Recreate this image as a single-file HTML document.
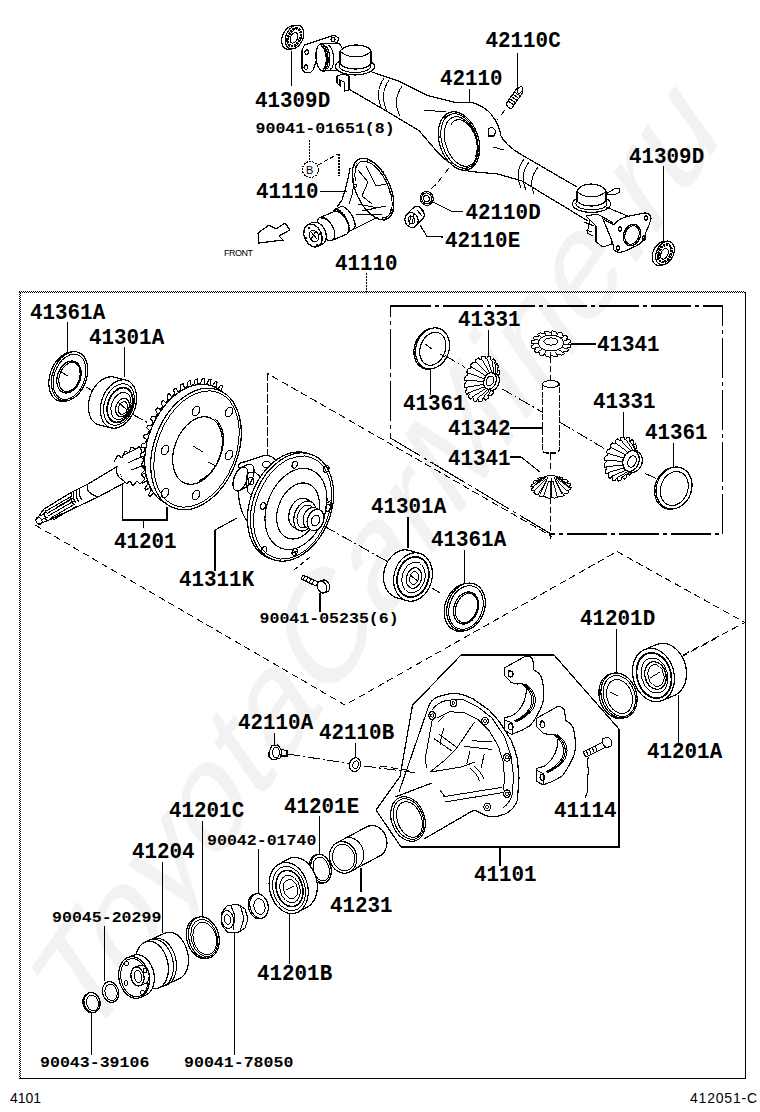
<!DOCTYPE html>
<html><head><meta charset="utf-8"><style>
html,body{margin:0;padding:0;background:#fff;width:760px;height:1112px;overflow:hidden}
svg{display:block}
.b{font-family:"Liberation Mono",monospace;font-weight:bold;font-size:22px;fill:#000}
.s{font-family:"Liberation Mono",monospace;font-weight:bold;font-size:15px;fill:#000}
.f{font-family:"Liberation Sans",sans-serif;font-size:14px;fill:#000}
.l{fill:none;stroke:#000;stroke-width:1.2}
.t{fill:none;stroke:#000;stroke-width:1}
.w{fill:#fff;stroke:#000;stroke-width:1.2}
.d{fill:none;stroke:#000;stroke-width:1;stroke-dasharray:7 4}
.dd{fill:none;stroke:#000;stroke-width:1;stroke-dasharray:12 3 2 3}
</style></head><body>
<svg width="760" height="1112" viewBox="0 0 760 1112" shape-rendering="crispEdges">
<text x="0" y="0" transform="translate(85.4,1049.1) scale(1.0205,1.457) rotate(-45)" style="font-family:'Liberation Sans',sans-serif;font-size:112px;fill:#f2f2f2">ToyotaCarMine.ru</text>
<path d="M281.7,40.7 L281.7,40 L281.7,39.4 L281.8,38.8 L281.9,38.2 L282,37.6 L282.2,37 L282.4,36.3 L282.6,35.7 L282.8,35.1 L283,34.5 L283.3,33.9 L283.6,33.3 L283.9,32.7 L284.2,32.2 L284.6,31.6 L284.9,31.1 L285.3,30.6 L285.7,30.1 L286.1,29.6 L286.5,29.2 L287,28.7 L287.4,28.3 L287.9,27.9 L288.3,27.6 L288.8,27.2 L289.3,26.9 L289.8,26.7 L290.3,26.4 L290.8,26.2 L291.2,26 L291.7,25.9 L292.2,25.8 L292.7,25.7 L296.2,25.2 L296.7,25.1 L297.1,25.1 L297.6,25.1 L298.1,25.2 L298.5,25.2 L298.9,25.4 L299.4,25.5 L299.8,25.7 L300.2,25.9 L300.6,26.1 L300.9,26.4 L301.3,26.7 L301.6,27 L301.9,27.3 L302.2,27.7 L302.5,28.1 L302.7,28.5 L302.9,29 L303.1,29.5 L303.3,29.9 L303.4,30.5 L303.6,31 L303.7,31.5 L303.8,32.1 L303.8,32.7 L303.8,33.2 L303.8,33.8 L303.8,34.5 L303.8,35.1 L303.7,35.7 L303.6,36.3 L303.5,36.9 L303.3,37.5 L303.1,38.2 L302.9,38.8 L302.7,39.4 L302.5,40 L302.2,40.6 L301.9,41.2 L301.6,41.8 L301.3,42.3 L300.9,42.9 L300.6,43.4 L300.2,43.9 L299.8,44.4 L299.4,44.9 L299,45.3 L298.5,45.8 L298.1,46.2 L297.6,46.6 L297.2,46.9 L296.7,47.2 L296.2,47.5 L295.7,47.8 L295.2,48.1 L294.8,48.3 L294.3,48.5 L293.8,48.6 L293.3,48.7 L292.8,48.8 L289.3,49.3 L288.8,49.4 L288.4,49.4 L287.9,49.4 L287.4,49.3 L287,49.2 L286.6,49.1 L286.1,49 L285.7,48.8 L285.3,48.6 L284.9,48.4 L284.6,48.1 L284.2,47.8 L283.9,47.5 L283.6,47.2 L283.3,46.8 L283,46.4 L282.8,46 L282.6,45.5 L282.4,45 L282.2,44.5 L282.1,44 L281.9,43.5 L281.8,43 L281.7,42.4 L281.7,41.8 L281.7,41.2 Z" fill="#fff" stroke="#000" stroke-width="1.2"/><ellipse cx="294.5" cy="37" rx="8.5" ry="12.5" transform="rotate(25 294.5 37)" fill="#fff" stroke="#000" stroke-width="1.2"/>
<ellipse cx="294.3" cy="37.3" rx="6" ry="9.2" transform="rotate(25 294.3 37.3)" fill="none" stroke="#000" stroke-width="2.8" stroke-dasharray="2.2 0.8"/>
<ellipse cx="294" cy="37.8" rx="3.4" ry="5.6" transform="rotate(25 294 37.8)" fill="none" stroke="#000" stroke-width="1.1"/>
<line x1="291.5" y1="50.5" x2="291.5" y2="86" stroke="#000" stroke-width="1.1"/>
<path d="M302,50 L304.5,45 L334,35.3 L338.5,37.8 L337.5,44 L333,48 L318,56 L313,70 L310.5,72.6 L304,72 L302,69 Z" fill="#fff" stroke="#000" stroke-width="1.2"/>
<ellipse cx="306.8" cy="52.1" rx="2" ry="2.2" fill="none" stroke="#000" stroke-width="1.1"/>
<ellipse cx="306" cy="67.1" rx="2" ry="2.2" fill="none" stroke="#000" stroke-width="1.1"/>
<ellipse cx="333" cy="39.5" rx="2" ry="2.2" fill="none" stroke="#000" stroke-width="1.1"/>
<path d="M315.9,55.2 L315.9,54.5 L315.9,53.8 L316,53.2 L316.1,52.5 L316.1,51.9 L316.2,51.2 L316.4,50.6 L316.5,50 L316.6,49.4 L316.8,48.9 L316.9,48.4 L317.1,47.9 L317.3,47.4 L317.5,46.9 L317.8,46.5 L318,46.1 L318.2,45.8 L318.5,45.4 L318.8,45.1 L319,44.9 L319.3,44.6 L319.6,44.5 L319.9,44.3 L320.2,44.2 L320.5,44.1 L320.8,44 L336.8,43 L337.1,43 L337.4,43.1 L337.8,43.1 L338.1,43.2 L338.4,43.4 L338.7,43.5 L339,43.8 L339.4,44 L339.7,44.3 L340,44.6 L340.3,44.9 L340.6,45.3 L340.9,45.7 L341.1,46.2 L341.4,46.6 L341.6,47.1 L341.9,47.6 L342.1,48.2 L342.4,48.7 L342.6,49.3 L342.8,49.9 L343,50.5 L343.2,51.2 L343.3,51.9 L343.5,52.5 L343.6,53.2 L343.7,53.9 L343.8,54.6 L343.9,55.3 L344,56 L344,56.7 L344.1,57.4 L344.1,58.1 L344.1,58.8 L344.1,59.5 L344.1,60.2 L344,60.8 L343.9,61.5 L343.9,62.1 L343.8,62.8 L343.6,63.4 L343.5,64 L343.4,64.6 L343.2,65.1 L343.1,65.6 L342.9,66.1 L342.7,66.6 L342.5,67.1 L342.2,67.5 L342,67.9 L341.8,68.2 L341.5,68.6 L341.2,68.9 L341,69.1 L340.7,69.4 L340.4,69.5 L340.1,69.7 L339.8,69.8 L339.5,69.9 L339.2,70 L323.2,71 L322.9,71 L322.6,70.9 L322.2,70.9 L321.9,70.8 L321.6,70.6 L321.3,70.5 L321,70.2 L320.6,70 L320.3,69.7 L320,69.4 L319.7,69.1 L319.4,68.7 L319.1,68.3 L318.9,67.8 L318.6,67.4 L318.4,66.9 L318.1,66.4 L317.9,65.8 L317.6,65.3 L317.4,64.7 L317.2,64.1 L317,63.5 L316.8,62.8 L316.7,62.1 L316.5,61.5 L316.4,60.8 L316.3,60.1 L316.2,59.4 L316.1,58.7 L316,58 L316,57.3 L315.9,56.6 L315.9,55.9 Z" fill="#fff" stroke="#000" stroke-width="1.2"/><ellipse cx="322" cy="57.5" rx="6" ry="13.5" transform="rotate(-5 322 57.5)" fill="#fff" stroke="#000" stroke-width="1.2"/>
<path d="M321,46 L321.3,46 L321.7,46.1 L322,46.3 L322.4,46.5 L322.7,46.8 L323.1,47.1 L323.4,47.5 L323.7,48 L324,48.5 L324.3,49.1 L324.6,49.8 L324.9,50.5 L325.1,51.2 L325.4,52 L325.6,52.8 L325.8,53.6 L325.9,54.5 L326.1,55.3 L326.2,56.2 L326.3,57.1 L326.3,58 L326.4,58.9 L326.4,59.8 L326.4,60.7 L326.3,61.5 L326.3,62.4 L326.2,63.2 L326.1,63.9 L325.9,64.7 L325.7,65.3 L325.5,66 L325.3,66.5 L325.1,67.1 L324.8,67.5 L324.6,67.9 L324.3,68.3 L324,68.6 L323.7,68.8 L323.3,68.9 L323,69" fill="none" stroke="#000" stroke-width="1.6"/>
<path d="M324.5,46 L324.8,46 L325.2,46.1 L325.5,46.3 L325.9,46.5 L326.2,46.8 L326.6,47.1 L326.9,47.5 L327.2,48 L327.5,48.5 L327.8,49.1 L328.1,49.8 L328.4,50.5 L328.6,51.2 L328.9,52 L329.1,52.8 L329.3,53.6 L329.4,54.5 L329.6,55.3 L329.7,56.2 L329.8,57.1 L329.8,58 L329.9,58.9 L329.9,59.8 L329.9,60.7 L329.8,61.5 L329.8,62.4 L329.7,63.2 L329.6,63.9 L329.4,64.7 L329.2,65.3 L329,66 L328.8,66.5 L328.6,67.1 L328.3,67.5 L328.1,67.9 L327.8,68.3 L327.5,68.6 L327.2,68.8 L326.8,68.9 L326.5,69" fill="none" stroke="#000" stroke-width="1.1"/>
<path d="M328,45.3 L328.3,45.4 L328.7,45.4 L329,45.6 L329.4,45.8 L329.7,46.1 L330.1,46.5 L330.5,46.9 L330.8,47.4 L331.1,48 L331.4,48.6 L331.7,49.2 L332,50 L332.3,50.7 L332.5,51.5 L332.7,52.4 L332.9,53.2 L333.1,54.1 L333.3,55 L333.4,56 L333.5,56.9 L333.6,57.8 L333.6,58.8 L333.6,59.7 L333.6,60.6 L333.5,61.5 L333.5,62.4 L333.4,63.2 L333.2,64 L333.1,64.8 L332.9,65.5 L332.7,66.1 L332.5,66.7 L332.2,67.3 L332,67.8 L331.7,68.2 L331.4,68.5 L331.1,68.8 L330.7,69 L330.4,69.2 L330,69.3" fill="none" stroke="#000" stroke-width="1.1"/>
<path d="M337,83 L337,76 L343,74 L349,76 L349,90 L345,91 L344,82 L340,80 L340,86 Z" fill="#fff" stroke="#000" stroke-width="1.1"/>
<ellipse cx="355" cy="66.5" rx="19.5" ry="8.5" fill="#fff" stroke="#000" stroke-width="1.2"/>
<ellipse cx="355" cy="66" rx="16" ry="6.5" fill="none" stroke="#000" stroke-width="1"/>
<path d="M340,64 L340,51 Q345,45 356,45 Q368,45 371,51 L371,64 Q366,69 355.5,69 Q345,69 340,64 Z" fill="#fff" stroke="#000" stroke-width="1.2"/>
<path d="M340,51 Q346,57 356,57 Q366,57 371,51" fill="none" stroke="#000" stroke-width="1.0"/>
<path d="M372,72 L400,81.6 L428.4,95.8 L456.8,102.7 L472.6,102.7 Q484,106 491,114 Q499,124 501,136 Q506,146 522,155 L577,187" fill="none" stroke="#000" stroke-width="1.2"/>
<path d="M349.5,89.5 L387.4,111.6 L419,130.5 L437.9,152.6 Q445,160 452,164 Q462,171 476,172 L498,174 L522,181 L588,221" fill="none" stroke="#000" stroke-width="1.2"/>
<path d="M384,78 Q374,93 382,109 M389,80 Q379,95 387,111 M402,86 Q392,101 400,116" fill="none" stroke="#000" stroke-width="1.0"/>
<path d="M524,159 Q514,172 521,188 M529,162 Q519,175 526,190 M538,167 Q528,180 534,194" fill="none" stroke="#000" stroke-width="1.0"/>
<path d="M424,110 L446,112" fill="none" stroke="#000" stroke-width="1.0"/>
<ellipse cx="459" cy="141" rx="19.5" ry="30" transform="rotate(-18 459 141)" fill="#fff" stroke="#000" stroke-width="1.2"/>
<ellipse cx="459.5" cy="141" rx="17.5" ry="28" transform="rotate(-18 459.5 141)" fill="none" stroke="#000" stroke-width="1.0"/>
<ellipse cx="461" cy="141.5" rx="15.5" ry="25.5" transform="rotate(-18 461 141.5)" fill="none" stroke="#000" stroke-width="1.0"/>
<path d="M450.9,124.9 L451.5,123.8 L452.2,122.9 L453,122.1 L453.8,121.4 L454.6,120.8 L455.6,120.3 L456.5,120 L457.5,119.8 L458.6,119.7 L459.6,119.7 L460.7,119.9 L461.8,120.3 L462.9,120.7 L464,121.3 L465.1,122 L466.2,122.8 L467.3,123.7 L468.3,124.7 L469.3,125.8 L470.3,127.1 L471.2,128.4 L472.1,129.8 L472.9,131.2 L473.7,132.7 L474.4,134.3 L475,135.9 L475.5,137.5 L476,139.2 L476.4,140.9 L476.7,142.5 L476.9,144.2 L477.1,145.8 L477.1,147.5 L477.1,149 L476.9,150.6 L476.7,152 L476.4,153.4 L476.1,154.7 L475.6,156 L475.1,157.1" fill="none" stroke="#000" stroke-width="1.0"/>
<ellipse cx="439.7" cy="136.9" rx="0.9" ry="0.9" fill="none" stroke="#000" stroke-width="0.8"/>
<ellipse cx="444.9" cy="117" rx="0.9" ry="0.9" fill="none" stroke="#000" stroke-width="0.8"/>
<ellipse cx="460.3" cy="114.3" rx="0.9" ry="0.9" fill="none" stroke="#000" stroke-width="0.8"/>
<ellipse cx="475.1" cy="130.6" rx="0.9" ry="0.9" fill="none" stroke="#000" stroke-width="0.8"/>
<ellipse cx="478.5" cy="154.3" rx="0.9" ry="0.9" fill="none" stroke="#000" stroke-width="0.8"/>
<ellipse cx="468.3" cy="168.6" rx="0.9" ry="0.9" fill="none" stroke="#000" stroke-width="0.8"/>
<ellipse cx="451.6" cy="163.1" rx="0.9" ry="0.9" fill="none" stroke="#000" stroke-width="0.8"/>
<path d="M488,129 L492,127 L496,131 L494,136 L489,136 Z" fill="none" stroke="#000" stroke-width="1.1"/>
<path d="M493,147 L504,150" fill="none" stroke="#000" stroke-width="1.0"/>
<path d="M517,88 Q520,85.5 523,92 L512,108 Q508,109 506,104 Z" fill="#fff" stroke="#000" stroke-width="1.1"/>
<ellipse cx="520" cy="90" rx="2.2" ry="3.6" transform="rotate(35 520 90)" fill="#fff" stroke="#000" stroke-width="1.0"/>
<line x1="514.4" y1="92" x2="520.1" y2="96" stroke="#000" stroke-width="1.0"/>
<line x1="512.8" y1="94.2" x2="518.6" y2="98.2" stroke="#000" stroke-width="1.0"/>
<line x1="511.3" y1="96.5" x2="517.1" y2="100.5" stroke="#000" stroke-width="1.0"/>
<line x1="509.7" y1="98.7" x2="515.5" y2="102.7" stroke="#000" stroke-width="1.0"/>
<line x1="508.2" y1="101" x2="514" y2="105" stroke="#000" stroke-width="1.0"/>
<line x1="517.5" y1="52.5" x2="517.5" y2="89" stroke="#000" stroke-width="1.1"/>
<path d="M505,110 L497,120" fill="none" stroke="#000" stroke-width="1" stroke-dasharray="7 4"/>
<line x1="469.5" y1="88.5" x2="469.5" y2="102" stroke="#000" stroke-width="1.1"/>
<path d="M449,168 L435,186" fill="none" stroke="#000" stroke-width="1" stroke-dasharray="7 4"/>
<path d="M586,216 L597,214 L612,222 L612,244 L603,247 L596,242 L596,226 Z" fill="#fff" stroke="#000" stroke-width="1.1"/>
<path d="M590,220 L587,233 L593,236 M584,222 L594,226 M586,230 L592,232" fill="none" stroke="#000" stroke-width="1.0"/>
<ellipse cx="591.5" cy="204" rx="19" ry="8.5" fill="#fff" stroke="#000" stroke-width="1.2"/>
<ellipse cx="591.5" cy="203.5" rx="15.5" ry="6.5" fill="none" stroke="#000" stroke-width="1"/>
<path d="M577,201 L577,191 Q581,184 591,184 Q602,184 606,191 L606,201 Q601,206 591.5,206 Q581,206 577,201 Z" fill="#fff" stroke="#000" stroke-width="1.2"/>
<path d="M577,191 Q582,197 591,197 Q601,197 606,191" fill="none" stroke="#000" stroke-width="1.0"/>
<path d="M606,194 L614,189 L619,188 L620,192 L614,195 Z" fill="#fff" stroke="#000" stroke-width="1.1"/>
<path d="M606,207 L630,217 M612,243 L616,246" fill="none" stroke="#000" stroke-width="1.1"/>
<path d="M603,219 L614,225 Q618,218 630,216 L645,213 Q651,213 651,219 L649,225 L646,232 Q645,242 636,246 L625,251 Q617,254 614,250 L613,244 L610,236 Z" fill="#fff" stroke="#000" stroke-width="1.2"/>
<ellipse cx="632" cy="235" rx="8.5" ry="11" transform="rotate(20 632 235)" fill="none" stroke="#000" stroke-width="1.2"/>
<ellipse cx="632" cy="235" rx="7" ry="9.5" transform="rotate(20 632 235)" fill="none" stroke="#000" stroke-width="1.0"/>
<ellipse cx="646" cy="218" rx="2" ry="2.2" fill="none" stroke="#000" stroke-width="1.1"/>
<ellipse cx="644" cy="238" rx="2" ry="2.2" fill="none" stroke="#000" stroke-width="1.1"/>
<ellipse cx="618" cy="248" rx="2" ry="2.2" fill="none" stroke="#000" stroke-width="1.1"/>
<ellipse cx="620" cy="229" rx="2" ry="2.2" fill="none" stroke="#000" stroke-width="1.1"/>
<path d="M652.2,256.7 L652.2,256.1 L652.2,255.4 L652.3,254.8 L652.4,254.2 L652.5,253.6 L652.7,253 L652.9,252.3 L653.1,251.7 L653.3,251.1 L653.5,250.5 L653.8,249.9 L654.1,249.3 L654.4,248.7 L654.7,248.2 L655.1,247.6 L655.4,247.1 L655.8,246.6 L656.2,246.1 L656.6,245.6 L657,245.2 L657.5,244.7 L657.9,244.3 L658.4,243.9 L658.8,243.6 L659.3,243.2 L659.8,242.9 L660.3,242.7 L660.8,242.4 L661.2,242.2 L661.7,242 L662.2,241.9 L662.7,241.8 L663.2,241.7 L666.7,241.2 L667.2,241.1 L667.6,241.1 L668.1,241.1 L668.6,241.2 L669,241.2 L669.5,241.4 L669.9,241.5 L670.3,241.7 L670.7,241.9 L671.1,242.1 L671.4,242.4 L671.8,242.7 L672.1,243 L672.4,243.3 L672.7,243.7 L673,244.1 L673.2,244.5 L673.4,245 L673.6,245.5 L673.8,245.9 L674,246.5 L674.1,247 L674.2,247.5 L674.3,248.1 L674.3,248.7 L674.3,249.2 L674.3,249.8 L674.3,250.4 L674.3,251.1 L674.2,251.7 L674.1,252.3 L674,252.9 L673.8,253.5 L673.6,254.2 L673.4,254.8 L673.2,255.4 L673,256 L672.7,256.6 L672.4,257.2 L672.1,257.8 L671.8,258.3 L671.4,258.9 L671.1,259.4 L670.7,259.9 L670.3,260.4 L669.9,260.9 L669.5,261.3 L669,261.8 L668.6,262.2 L668.1,262.6 L667.7,262.9 L667.2,263.2 L666.7,263.6 L666.2,263.8 L665.7,264.1 L665.2,264.3 L664.8,264.5 L664.3,264.6 L663.8,264.7 L663.3,264.8 L659.8,265.3 L659.3,265.4 L658.9,265.4 L658.4,265.4 L657.9,265.3 L657.5,265.2 L657,265.1 L656.6,265 L656.2,264.8 L655.8,264.6 L655.4,264.4 L655.1,264.1 L654.7,263.8 L654.4,263.5 L654.1,263.2 L653.8,262.8 L653.5,262.4 L653.3,262 L653.1,261.5 L652.9,261 L652.7,260.6 L652.5,260 L652.4,259.5 L652.3,259 L652.2,258.4 L652.2,257.8 L652.2,257.2 Z" fill="#fff" stroke="#000" stroke-width="1.2"/><ellipse cx="665" cy="253" rx="8.5" ry="12.5" transform="rotate(25 665 253)" fill="#fff" stroke="#000" stroke-width="1.2"/>
<ellipse cx="664.8" cy="253.3" rx="6" ry="9.2" transform="rotate(25 664.8 253.3)" fill="none" stroke="#000" stroke-width="2.8" stroke-dasharray="2.2 0.8"/>
<ellipse cx="664.5" cy="253.8" rx="3.4" ry="5.6" transform="rotate(25 664.5 253.8)" fill="none" stroke="#000" stroke-width="1.1"/>
<line x1="663.5" y1="166" x2="663.5" y2="241" stroke="#000" stroke-width="1.1"/>
<ellipse cx="426.7" cy="198.4" rx="6.5" ry="7" transform="rotate(-20 426.7 198.4)" fill="#fff" stroke="#000" stroke-width="1.2"/>
<ellipse cx="426.7" cy="198.4" rx="5" ry="5.5" transform="rotate(-20 426.7 198.4)" fill="none" stroke="#000" stroke-width="1.0"/>
<ellipse cx="426.5" cy="198.6" rx="2.8" ry="3.3" transform="rotate(-20 426.5 198.6)" fill="none" stroke="#000" stroke-width="1.1"/>
<path d="M433,202 L452,211.5 L463,211.5" fill="none" stroke="#000" stroke-width="1.1"/>
<path d="M404.9,219.2 L404.9,218.8 L404.9,218.4 L405,218 L405.1,217.7 L405.1,217.3 L405.2,216.9 L405.4,216.6 L405.5,216.2 L405.7,215.9 L405.8,215.6 L406,215.3 L406.2,215 L406.4,214.7 L406.7,214.5 L412.9,208.2 L413.2,208 L413.4,207.8 L413.7,207.6 L414,207.4 L414.3,207.2 L414.6,207.1 L414.9,206.9 L415.3,206.8 L415.6,206.8 L415.9,206.7 L416.3,206.6 L416.6,206.6 L416.9,206.6 L417.3,206.6 L417.6,206.7 L418,206.7 L418.3,206.8 L418.7,206.9 L419,207 L419.4,207.1 L419.7,207.3 L420,207.4 L420.3,207.6 L420.6,207.8 L420.9,208.1 L421.2,208.3 L421.5,208.6 L421.8,208.8 L422,209.1 L422.3,209.4 L422.5,209.7 L422.7,210 L422.9,210.4 L423.1,210.7 L423.3,211.1 L423.5,211.4 L423.6,211.8 L423.7,212.2 L423.8,212.5 L423.9,212.9 L424,213.3 L424.1,213.7 L424.1,214.1 L424.1,214.4 L424.1,214.8 L424.1,215.2 L424.1,215.6 L424,216 L423.9,216.3 L423.9,216.7 L423.8,217.1 L423.6,217.4 L423.5,217.8 L423.3,218.1 L423.2,218.4 L423,218.7 L422.8,219 L422.6,219.3 L422.3,219.5 L416.1,225.8 L415.8,226 L415.6,226.2 L415.3,226.4 L415,226.6 L414.7,226.8 L414.4,226.9 L414.1,227.1 L413.7,227.2 L413.4,227.2 L413.1,227.3 L412.7,227.4 L412.4,227.4 L412.1,227.4 L411.7,227.4 L411.4,227.3 L411,227.3 L410.7,227.2 L410.3,227.1 L410,227 L409.6,226.9 L409.3,226.7 L409,226.6 L408.7,226.4 L408.4,226.2 L408.1,225.9 L407.8,225.7 L407.5,225.4 L407.2,225.2 L407,224.9 L406.7,224.6 L406.5,224.3 L406.3,224 L406.1,223.6 L405.9,223.3 L405.7,222.9 L405.5,222.6 L405.4,222.2 L405.3,221.8 L405.2,221.5 L405.1,221.1 L405,220.7 L404.9,220.3 L404.9,219.9 L404.9,219.6 Z" fill="#fff" stroke="#000" stroke-width="1.2"/><ellipse cx="411.5" cy="220" rx="6.5" ry="7.5" transform="rotate(-20 411.5 220)" fill="#fff" stroke="#000" stroke-width="1.2"/>
<path d="M411,215 L409,225 M414,214 L412,224 M417,210 L422,216 M420,208 L425,214" fill="none" stroke="#000" stroke-width="1.0"/>
<ellipse cx="411.5" cy="220" rx="3" ry="3.8" transform="rotate(-20 411.5 220)" fill="none" stroke="#000" stroke-width="1.0"/>
<path d="M420,225 L427,236.5 L443,237" fill="none" stroke="#000" stroke-width="1.1"/>
<path d="M436,184 L430,190" fill="none" stroke="#000" stroke-width="1" stroke-dasharray="7 4"/>
<circle cx="310.5" cy="169.5" r="8" fill="none" stroke="#000" stroke-width="1.1" stroke-dasharray="2 1"/>
<text x="306" y="174" style="font-family:'Liberation Sans';font-size:11px;fill:#000">B</text>
<path d="M309.5,140 L309.5,161" fill="none" stroke="#000" stroke-width="1.1" stroke-dasharray="1.5 1.5"/>
<path d="M318,165 L338,154" fill="none" stroke="#000" stroke-width="1.1" stroke-dasharray="4 3"/>
<path d="M339,154 L339,176" fill="none" stroke="#000" stroke-width="1.1" stroke-dasharray="1.5 1.5"/>
<line x1="320" y1="191.3" x2="347" y2="191.3" stroke="#000" stroke-width="1.1"/>
<path d="M350,168 Q347,186 342,200 L337,207 M378,217 L350,231" fill="none" stroke="#000" stroke-width="1.2"/>
<path d="M352,172 Q356,188 349,204 M358,170 L368,182 L362,196 L372,204 M366,166 L376,186 L386,184 M358,204 L378,208 M362,211 L386,206 M356,214 L382,214" fill="none" stroke="#000" stroke-width="1.0"/>
<ellipse cx="373" cy="189" rx="17" ry="33" transform="rotate(-25 373 189)" fill="none" stroke="#000" stroke-width="1.3"/>
<path d="M355.4,181.1 L355.1,178.2 L354.9,175.4 L355,172.8 L355.2,170.4 L355.7,168.3 L356.5,166.4 L357.4,164.7 L358.5,163.4 L359.8,162.3 L361.2,161.6 L362.8,161.2 L364.5,161.2 L366.3,161.5 L368.3,162.1 L370.2,163 L372.2,164.3 L374.3,165.9 L376.3,167.7 L378.3,169.8 L380.2,172.1 L382.1,174.7 L383.8,177.4 L385.4,180.3 L386.9,183.2 L388.2,186.3 L389.4,189.4 L390.3,192.5 L391.1,195.5 L391.7,198.5 L392,201.4 L392.1,204.1 L392,206.7 L391.7,209 L391.1,211.1 L390.4,213 L389.4,214.6 L388.3,215.9 L387,216.8 L385.5,217.5 L383.9,217.8" fill="none" stroke="#000" stroke-width="1.0"/>
<ellipse cx="355.7" cy="164.5" rx="1.4" ry="1.6" fill="none" stroke="#000" stroke-width="1.0"/>
<ellipse cx="368.8" cy="161" rx="1.4" ry="1.6" fill="none" stroke="#000" stroke-width="1.0"/>
<ellipse cx="382.2" cy="173.1" rx="1.4" ry="1.6" fill="none" stroke="#000" stroke-width="1.0"/>
<ellipse cx="391.3" cy="192.7" rx="1.4" ry="1.6" fill="none" stroke="#000" stroke-width="1.0"/>
<ellipse cx="392" cy="210.7" rx="1.4" ry="1.6" fill="none" stroke="#000" stroke-width="1.0"/>
<ellipse cx="383.9" cy="218.7" rx="1.4" ry="1.6" fill="none" stroke="#000" stroke-width="1.0"/>
<ellipse cx="355.1" cy="185.7" rx="1.4" ry="1.6" fill="none" stroke="#000" stroke-width="1.0"/>
<path d="M332.9,213.5 L332.9,213.1 L333,212.6 L333.1,212.2 L333.1,211.8 L333.2,211.5 L333.4,211.1 L333.5,210.8 L333.6,210.6 L333.8,210.3 L334,210.1 L334.3,209.9 L334.5,209.7 L340.8,206.6 L341,206.5 L341.3,206.4 L341.6,206.4 L341.9,206.4 L342.3,206.4 L342.6,206.5 L343,206.6 L343.4,206.7 L343.8,206.9 L344.1,207.1 L344.5,207.3 L344.9,207.5 L345.4,207.8 L345.8,208.1 L346.2,208.4 L346.6,208.8 L347,209.2 L347.4,209.6 L347.9,210 L348.3,210.4 L348.7,210.9 L349.1,211.4 L349.5,211.9 L349.9,212.4 L350.3,213 L350.7,213.5 L351.1,214.1 L351.4,214.7 L352.1,215.8 L352.4,216.4 L352.7,217.1 L353,217.7 L353.3,218.3 L353.5,218.9 L353.8,219.5 L354,220.1 L354.4,221.2 L354.5,221.8 L354.7,222.4 L354.8,222.9 L354.9,223.5 L355,224 L355,224.5 L355.1,225 L355.1,225.5 L355.1,225.9 L355,226.4 L354.9,226.8 L354.9,227.2 L354.8,227.5 L354.6,227.9 L354.5,228.2 L354.4,228.4 L354.2,228.7 L354,228.9 L353.7,229.1 L353.5,229.3 L347.2,232.4 L347,232.5 L346.7,232.6 L346.4,232.6 L346.1,232.6 L345.7,232.6 L345.4,232.5 L345,232.4 L344.6,232.3 L344.2,232.1 L343.9,231.9 L343.5,231.7 L343.1,231.5 L342.6,231.2 L342.2,230.9 L341.8,230.6 L341.4,230.2 L341,229.8 L340.6,229.4 L340.1,229 L339.7,228.6 L339.3,228.1 L338.9,227.6 L338.5,227.1 L338.1,226.6 L337.7,226 L337.3,225.5 L336.9,224.9 L336.6,224.3 L335.9,223.2 L335.6,222.6 L335.3,221.9 L335,221.3 L334.7,220.7 L334.5,220.1 L334.2,219.5 L334,218.9 L333.6,217.8 L333.5,217.2 L333.3,216.6 L333.2,216.1 L333.1,215.5 L333,215 L333,214.5 L332.9,214 Z" fill="#fff" stroke="#000" stroke-width="1.2"/><ellipse cx="341" cy="221" rx="5.5" ry="13" transform="rotate(-30 341 221)" fill="#fff" stroke="#000" stroke-width="1.2"/>
<path d="M334.5,209.7 L334.9,209.6 L335.3,209.5 L335.8,209.4 L336.3,209.4 L336.8,209.5 L337.4,209.7 L337.9,210 L338.5,210.3 L339.2,210.7 L339.8,211.1 L340.4,211.6 L341,212.2 L341.7,212.8 L342.3,213.4 L342.9,214.2 L343.5,214.9 L344.1,215.7 L344.7,216.5 L345.2,217.4 L345.8,218.2 L346.3,219.1 L346.7,220 L347.1,221 L347.5,221.9 L347.9,222.8 L348.2,223.7 L348.5,224.5 L348.7,225.4 L348.8,226.2 L349,227 L349,227.8 L349.1,228.5 L349,229.2 L349,229.8 L348.8,230.3 L348.7,230.9 L348.4,231.3 L348.2,231.7 L347.9,232 L347.5,232.3" fill="none" stroke="#000" stroke-width="2.2" stroke-dasharray="1.5 1"/>
<path d="M317.1,223 L317.1,222.4 L317.2,221.9 L317.2,221.5 L317.3,221 L317.5,220.6 L317.6,220.1 L317.8,219.7 L317.9,219.4 L318.1,219 L318.4,218.7 L318.6,218.4 L318.9,218.2 L319.2,217.9 L319.5,217.7 L319.8,217.6 L333.8,211.6 L334.2,211.4 L334.5,211.3 L334.9,211.3 L335.3,211.2 L335.7,211.2 L336.1,211.2 L336.5,211.3 L337,211.4 L337.4,211.5 L337.9,211.7 L338.3,211.8 L338.8,212.1 L339.2,212.3 L339.7,212.6 L340.2,212.9 L340.6,213.2 L341.1,213.6 L341.5,213.9 L342,214.3 L342.4,214.8 L342.9,215.2 L343.3,215.7 L343.8,216.2 L344.2,216.7 L344.6,217.2 L345,217.8 L345.4,218.3 L345.7,218.9 L346.1,219.5 L346.4,220.1 L346.7,220.7 L347,221.3 L347.3,221.9 L347.5,222.5 L347.8,223.2 L348,223.8 L348.2,224.4 L348.4,225 L348.5,225.6 L348.6,226.2 L348.7,226.8 L348.8,227.4 L348.9,227.9 L348.9,228.5 L348.9,229 L348.9,229.6 L348.8,230.1 L348.8,230.5 L348.7,231 L348.5,231.4 L348.4,231.9 L348.2,232.3 L348.1,232.6 L347.9,233 L347.6,233.3 L347.4,233.6 L347.1,233.8 L346.8,234.1 L346.5,234.3 L346.2,234.4 L332.2,240.4 L331.8,240.6 L331.5,240.7 L331.1,240.7 L330.7,240.8 L330.3,240.8 L329.9,240.8 L329.5,240.7 L329,240.6 L328.6,240.5 L328.1,240.3 L327.7,240.2 L327.2,239.9 L326.8,239.7 L326.3,239.4 L325.8,239.1 L325.4,238.8 L324.9,238.4 L324.5,238.1 L324,237.7 L323.6,237.2 L323.1,236.8 L322.7,236.3 L322.2,235.8 L321.8,235.3 L321.4,234.8 L321,234.2 L320.6,233.7 L320.3,233.1 L319.9,232.5 L319.6,231.9 L319.3,231.3 L319,230.7 L318.7,230.1 L318.5,229.5 L318.2,228.8 L318,228.2 L317.8,227.6 L317.6,227 L317.5,226.4 L317.4,225.8 L317.3,225.2 L317.2,224.6 L317.1,224.1 L317.1,223.5 Z" fill="#fff" stroke="#000" stroke-width="1.2"/><ellipse cx="326" cy="229" rx="7" ry="13" transform="rotate(-30 326 229)" fill="#fff" stroke="#000" stroke-width="1.2"/>
<path d="M321,218.6 L321.4,218.4 L321.9,218.3 L322.4,218.2 L322.9,218.2 L323.4,218.3 L324,218.4 L324.6,218.6 L325.2,218.8 L325.8,219.1 L326.4,219.5 L327.1,220 L327.7,220.5 L328.3,221 L328.9,221.6 L329.5,222.3 L330.1,222.9 L330.7,223.7 L331.2,224.4 L331.7,225.2 L332.2,226 L332.7,226.8 L333.1,227.7 L333.5,228.5 L333.8,229.4 L334.1,230.2 L334.4,231 L334.6,231.9 L334.7,232.7 L334.8,233.5 L334.9,234.2 L334.9,235 L334.9,235.6 L334.8,236.3 L334.7,236.9 L334.5,237.5 L334.3,238 L334,238.4 L333.7,238.8 L333.4,239.1 L333,239.4" fill="none" stroke="#000" stroke-width="1.0"/>
<path d="M303.8,232.6 L303.8,232 L303.8,231.4 L303.9,230.9 L304,230.3 L304.1,229.8 L304.2,229.3 L304.4,228.8 L304.6,228.3 L304.8,227.9 L305,227.4 L305.2,227 L305.5,226.6 L305.8,226.3 L306.1,225.9 L306.4,225.6 L306.8,225.3 L307.1,225.1 L307.5,224.8 L307.9,224.6 L311.9,222.6 L312.3,222.4 L312.8,222.3 L313.2,222.2 L313.6,222.1 L314.1,222.1 L314.6,222.1 L315,222.1 L315.5,222.1 L316,222.2 L316.5,222.3 L316.9,222.4 L317.4,222.6 L317.9,222.8 L318.4,223 L318.9,223.3 L319.3,223.6 L319.8,223.9 L320.2,224.2 L320.7,224.6 L321.1,224.9 L321.6,225.4 L322,225.8 L322.4,226.2 L322.8,226.7 L323.1,227.2 L323.5,227.7 L323.8,228.2 L324.1,228.8 L324.4,229.3 L324.7,229.9 L325,230.5 L325.2,231.1 L325.4,231.7 L325.6,232.2 L325.8,232.8 L325.9,233.4 L326,234 L326.1,234.6 L326.2,235.2 L326.2,235.8 L326.2,236.4 L326.2,237 L326.2,237.6 L326.1,238.1 L326,238.7 L325.9,239.2 L325.8,239.7 L325.6,240.2 L325.4,240.7 L325.2,241.1 L325,241.6 L324.8,242 L324.5,242.4 L324.2,242.7 L323.9,243.1 L323.6,243.4 L323.2,243.7 L322.9,243.9 L322.5,244.2 L322.1,244.4 L318.1,246.4 L317.7,246.6 L317.2,246.7 L316.8,246.8 L316.4,246.9 L315.9,246.9 L315.4,246.9 L315,246.9 L314.5,246.9 L314,246.8 L313.5,246.7 L313.1,246.6 L312.6,246.4 L312.1,246.2 L311.6,246 L311.1,245.7 L310.7,245.4 L310.2,245.1 L309.8,244.8 L309.3,244.4 L308.9,244.1 L308.4,243.6 L308,243.2 L307.6,242.8 L307.2,242.3 L306.9,241.8 L306.5,241.3 L306.2,240.8 L305.9,240.2 L305.6,239.7 L305.3,239.1 L305,238.5 L304.8,237.9 L304.6,237.3 L304.4,236.8 L304.2,236.2 L304.1,235.6 L304,235 L303.9,234.4 L303.8,233.8 L303.8,233.2 Z" fill="#fff" stroke="#000" stroke-width="1.2"/><ellipse cx="313" cy="235.5" rx="8.5" ry="12" transform="rotate(-25 313 235.5)" fill="#fff" stroke="#000" stroke-width="1.2"/>
<ellipse cx="314" cy="236" rx="4.5" ry="6" transform="rotate(-25 314 236)" fill="none" stroke="#000" stroke-width="1.0"/>
<path d="M311,232 L317,239 M316,231 L311,239" fill="none" stroke="#000" stroke-width="1.0"/>
<ellipse cx="309" cy="228" rx="0.9" ry="0.9" fill="none" stroke="#000" stroke-width="0.9"/>
<ellipse cx="306" cy="238" rx="0.9" ry="0.9" fill="none" stroke="#000" stroke-width="0.9"/>
<ellipse cx="317" cy="245" rx="0.9" ry="0.9" fill="none" stroke="#000" stroke-width="0.9"/>
<ellipse cx="320" cy="234" rx="0.9" ry="0.9" fill="none" stroke="#000" stroke-width="0.9"/>
<path d="M258,233 L269,225 L276,229 L285,223 L290,230 L279,236 L283,240 L259,243 Z" fill="none" stroke="#000" stroke-width="1.2"/>
<text x="224" y="256" style="font-family:'Liberation Sans';font-size:9px;fill:#000;letter-spacing:-0.5px">FRONT</text>
<path d="M366.5,273 L366.5,292" fill="none" stroke="#000" stroke-width="1.1" stroke-dasharray="1.5 1.5"/>
<g shape-rendering="crispEdges" stroke="#000" stroke-width="1" fill="none"><path d="M19,291.5 L745,291.5" stroke-dasharray="1 1"/><path d="M20,292.5 L745,292.5" stroke-dasharray="1 1"/><path d="M19.5,292 L19.5,1078" stroke-dasharray="1 1"/><path d="M20.5,293 L20.5,1078" stroke-dasharray="1 1"/></g>
<path d="M745.5,292 L745.5,1078.5 L19,1078.5" stroke="#000" stroke-width="1.2" fill="none"/>
<path d="M390.5,306 L722.5,306 L722.5,534 L551,534 L390.5,438 Z" fill="none" stroke="#000" stroke-width="1.1" stroke-dasharray="40 4 4 4"/>
<path d="M267.5,456 L267.5,373.5 L552,536.5" fill="none" stroke="#000" stroke-width="1" stroke-dasharray="7 4"/>
<path d="M35,525 L345,705 L617,551.5 L745,622.5 L681,656" fill="none" stroke="#000" stroke-width="1" stroke-dasharray="7 4"/>
<line x1="67.5" y1="322" x2="67.5" y2="352" stroke="#000" stroke-width="1.1"/>
<path d="M48.8,383.8 L48.8,382.5 L48.9,381.2 L49,380 L49.1,378.7 L49.3,377.4 L49.6,376.1 L49.9,374.8 L50.2,373.5 L50.6,372.2 L51,371 L51.5,369.7 L52,368.5 L52.6,367.3 L53.2,366.1 L53.8,365 L54.5,363.9 L55.2,362.8 L56,361.7 L56.7,360.7 L57.5,359.8 L58.4,358.9 L59.2,358 L60.1,357.2 L61,356.4 L61.9,355.7 L62.8,355.1 L63.7,354.5 L64.7,354 L65.6,353.5 L66.6,353.1 L67.5,352.8 L68.5,352.5 L71,352 L71.9,351.9 L72.9,351.7 L73.8,351.6 L74.7,351.6 L75.6,351.7 L76.5,351.9 L77.4,352.1 L78.2,352.3 L79,352.7 L79.8,353.1 L80.6,353.5 L81.3,354.1 L82.1,354.7 L82.7,355.3 L83.4,356 L84,356.8 L84.5,357.6 L85,358.5 L85.5,359.4 L86,360.3 L86.3,361.3 L86.7,362.4 L87,363.5 L87.2,364.6 L87.4,365.7 L87.5,366.9 L87.7,368.1 L87.7,369.4 L87.7,370.6 L87.6,371.9 L87.5,373.1 L87.4,374.4 L87.2,375.7 L86.9,377 L86.6,378.3 L86.3,379.6 L85.9,380.9 L85.5,382.1 L85,383.4 L84.5,384.6 L83.9,385.8 L83.3,387 L82.7,388.1 L82,389.2 L81.3,390.3 L80.5,391.4 L79.8,392.4 L79,393.3 L78.2,394.2 L77.3,395.1 L76.4,395.9 L75.5,396.6 L74.6,397.4 L73.7,398 L72.8,398.6 L71.8,399.1 L70.9,399.6 L69.9,400 L69,400.3 L68,400.6 L65.5,401.1 L64.6,401.2 L63.6,401.4 L62.7,401.4 L61.8,401.4 L60.9,401.4 L60,401.2 L59.1,401 L58.3,400.8 L57.5,400.4 L56.7,400 L55.9,399.6 L55.1,399 L54.4,398.4 L53.8,397.8 L53.1,397.1 L52.5,396.3 L52,395.5 L51.5,394.6 L51,393.7 L50.5,392.8 L50.2,391.8 L49.8,390.7 L49.5,389.6 L49.3,388.5 L49.1,387.4 L49,386.2 L48.9,385 Z" fill="#fff" stroke="#000" stroke-width="1.2"/><ellipse cx="69.5" cy="376.3" rx="17" ry="25.5" transform="rotate(20 69.5 376.3)" fill="#fff" stroke="#000" stroke-width="1.2"/>
<ellipse cx="69.5" cy="376.8" rx="15.2" ry="23.5" transform="rotate(20 69.5 376.8)" fill="none" stroke="#000" stroke-width="1"/>
<ellipse cx="69" cy="377" rx="11.5" ry="16.5" transform="rotate(20 69 377)" fill="none" stroke="#000" stroke-width="1.2"/>
<ellipse cx="69.5" cy="377" rx="10" ry="15" transform="rotate(20 69.5 377)" fill="none" stroke="#000" stroke-width="1"/>
<path d="M61,372 L68,376" fill="none" stroke="#000" stroke-width="1"/>
<line x1="124.5" y1="347" x2="124.5" y2="377" stroke="#000" stroke-width="1.1"/>
<path d="M88.4,406.5 L88.4,405.2 L88.5,404 L88.7,402.7 L88.9,401.5 L89.1,400.2 L89.4,398.9 L89.7,397.7 L90.1,396.4 L90.5,395.2 L91,394 L91.5,392.8 L92.1,391.6 L92.7,390.4 L93.3,389.3 L94,388.2 L94.7,387.1 L95.4,386.1 L96.2,385.1 L96.9,384.2 L97.8,383.3 L98.6,382.5 L99.5,381.7 L100.3,381 L101.2,380.3 L102.2,379.6 L103.1,379.1 L104,378.6 L105,378.1 L105.9,377.8 L106.9,377.4 L107.8,377.2 L108.8,377 L109.7,376.9 L110.6,376.8 L111.5,376.8 L112.5,376.9 L113.3,377 L114.2,377.2 L126.2,380.2 L127,380.5 L127.9,380.8 L128.7,381.2 L129.4,381.7 L130.2,382.2 L130.9,382.8 L131.6,383.4 L132.2,384.1 L132.8,384.9 L133.4,385.7 L133.9,386.6 L134.4,387.5 L134.8,388.4 L135.2,389.4 L135.5,390.4 L135.8,391.5 L136.1,392.6 L136.3,393.7 L136.4,394.9 L136.6,396.1 L136.6,397.3 L136.6,398.5 L136.6,399.8 L136.5,401 L136.3,402.3 L136.1,403.5 L135.9,404.8 L135.6,406.1 L135.3,407.3 L134.9,408.6 L134.5,409.8 L134,411 L133.5,412.2 L132.9,413.4 L132.3,414.6 L131.7,415.7 L131.1,416.8 L130.3,417.9 L129.6,418.9 L128.8,419.9 L128.1,420.8 L127.2,421.7 L126.4,422.5 L125.5,423.3 L124.7,424 L123.8,424.7 L122.8,425.4 L121.9,425.9 L121,426.4 L120,426.9 L119.1,427.2 L118.1,427.6 L117.2,427.8 L116.2,428 L115.3,428.1 L114.4,428.2 L113.5,428.2 L112.5,428.1 L111.7,428 L110.8,427.8 L98.8,424.8 L98,424.5 L97.1,424.2 L96.3,423.8 L95.6,423.3 L94.8,422.8 L94.1,422.2 L93.4,421.6 L92.8,420.9 L92.2,420.1 L91.6,419.3 L91.1,418.4 L90.6,417.5 L90.2,416.6 L89.8,415.6 L89.5,414.6 L89.2,413.5 L88.9,412.4 L88.7,411.3 L88.5,410.1 L88.5,408.9 L88.4,407.7 Z" fill="#fff" stroke="#000" stroke-width="1.2"/><ellipse cx="118.5" cy="404" rx="17" ry="25" transform="rotate(20 118.5 404)" fill="#fff" stroke="#000" stroke-width="1.2"/>
<ellipse cx="119" cy="404.5" rx="14.5" ry="21.5" transform="rotate(20 119 404.5)" fill="none" stroke="#000" stroke-width="1"/>
<ellipse cx="120" cy="405" rx="12" ry="18" transform="rotate(20 120 405)" fill="none" stroke="#000" stroke-width="1.8"/>
<ellipse cx="121" cy="406" rx="9.5" ry="14" transform="rotate(20 121 406)" fill="none" stroke="#000" stroke-width="1"/>
<ellipse cx="122.5" cy="407.5" rx="6.5" ry="9.5" transform="rotate(20 122.5 407.5)" fill="none" stroke="#000" stroke-width="1.2"/>
<ellipse cx="123" cy="408" rx="4.5" ry="6.5" transform="rotate(20 123 408)" fill="none" stroke="#000" stroke-width="1"/>
<path d="M118,402 L127,410" fill="none" stroke="#000" stroke-width="1"/>
<path d="M86,387 L93,391 M132,414 L150,424" fill="none" stroke="#000" stroke-width="1" stroke-dasharray="12 3 2 3"/>
<path d="M153.4,493.4 L149.7,496.7 L148.4,494.9 L151.1,490.1 L149.7,487.6 L145.8,490.3 L144.8,488.1 L147.9,483.7 L146.8,480.9 L142.9,482.9 L142.2,480.5 L145.6,476.5 L144.9,473.5 L140.9,474.7 L140.5,472.1 L144.2,468.7 L143.9,465.4 L140,465.8 L139.9,463 L143.8,460.3 L143.9,456.9 L140.1,456.5 L140.3,453.6 L144.3,451.6 L144.8,448.1 L141.3,446.9 L141.8,444 L145.8,442.7 L146.6,439.2 L143.4,437.3 L144.3,434.4 L148.2,433.9 L149.4,430.4 L146.6,427.8 L147.7,425.1 L151.5,425.3 L153,422 L150.6,418.7 L152,416.1 L155.6,417.1 L157.4,414 L155.5,410.2 L157.1,407.7 L160.4,409.5 L162.5,406.7 L161.1,402.3 L162.9,400.2 L165.8,402.7 L168.1,400.2 L167.3,395.4 L169.2,393.5 L171.7,396.7 L174.2,394.6 L173.9,389.5 L176,388 L178,391.7 L180.6,390.1 L180.9,384.8 L183,383.7 L184.5,387.9 L187.1,386.7 L188.1,381.4 L190.2,380.6 L191.1,385.3 L193.8,384.6 L195.2,379.3 L197.4,379 L197.7,384 L200.3,383.8 L202.3,378.6 L204.3,378.7 L204.1,383.9 L206.5,384.3 L209,379.3 L211,379.8 L210.1,385.2 L212.4,386 L215.3,381.5 L217.1,382.4 L215.7,387.7 L217.8,389 L221.1,384.9 L222.7,386.2 L220.8,391.4 L222.6,393.2" fill="none" stroke="#000" stroke-width="1.1"/>
<path d="M144.8,461.4 L144.8,458.3 L145,455.2 L145.3,452 L145.7,448.9 L146.3,445.7 L146.9,442.5 L147.7,439.3 L148.6,436.2 L149.7,433.1 L150.8,429.9 L152,426.9 L153.4,423.9 L154.8,420.9 L156.3,418.1 L158,415.2 L159.7,412.5 L161.5,409.9 L163.4,407.3 L165.3,404.9 L167.3,402.6 L169.4,400.3 L171.6,398.2 L173.7,396.3 L176,394.5 L178.2,392.8 L180.5,391.2 L182.9,389.8 L185.2,388.6 L187.6,387.5 L189.9,386.5 L192.3,385.8 L194.7,385.1 L197,384.7 L199.4,384.4 L201.7,384.3 L203.9,384.3 L206.2,384.6 L208.3,384.9 L210.5,385.5 L212.6,386.2 L214.6,387.1 L216.6,388.1 L218.4,389.3 L224.4,393.3 L226.2,394.6 L228,396.1 L229.6,397.7 L231.1,399.5 L232.6,401.4 L233.9,403.4 L235.2,405.6 L236.3,407.9 L237.3,410.3 L238.2,412.8 L239,415.4 L239.7,418.1 L240.2,420.8 L240.7,423.7 L241,426.6 L241.2,429.6 L241.2,432.6 L241.2,435.7 L241,438.8 L240.7,442 L240.3,445.1 L239.7,448.3 L239.1,451.5 L238.3,454.7 L237.4,457.8 L236.3,460.9 L235.2,464.1 L234,467.1 L232.6,470.1 L231.2,473.1 L229.7,475.9 L228,478.8 L226.3,481.5 L224.5,484.1 L222.6,486.7 L220.7,489.1 L218.7,491.4 L216.6,493.7 L214.4,495.8 L212.3,497.7 L210,499.5 L207.8,501.2 L205.5,502.8 L203.1,504.2 L200.8,505.4 L198.4,506.5 L196.1,507.5 L193.7,508.2 L191.3,508.9 L189,509.3 L186.6,509.6 L184.3,509.7 L182.1,509.7 L179.8,509.4 L177.7,509.1 L175.5,508.5 L173.4,507.8 L171.4,506.9 L169.4,505.9 L167.6,504.7 L161.6,500.7 L159.8,499.4 L158,497.9 L156.4,496.3 L154.9,494.5 L153.4,492.6 L152.1,490.6 L150.8,488.4 L149.7,486.1 L148.7,483.7 L147.8,481.2 L147,478.6 L146.3,475.9 L145.8,473.2 L145.3,470.3 L145,467.4 L144.8,464.4 Z" fill="#fff" stroke="#000" stroke-width="1.2"/><ellipse cx="196" cy="449" rx="42" ry="63" transform="rotate(21 196 449)" fill="#fff" stroke="#000" stroke-width="1.2"/>
<ellipse cx="196.5" cy="449" rx="39.5" ry="60.5" transform="rotate(21 196.5 449)" fill="none" stroke="#000" stroke-width="1"/>
<ellipse cx="197.5" cy="450.5" rx="23" ry="35" transform="rotate(21 197.5 450.5)" fill="none" stroke="#000" stroke-width="1.2"/>
<path d="M215.1,419.1 L216.1,420 L217.2,421 L218.1,422 L219,423.2 L219.8,424.5 L220.5,425.9 L221.2,427.3 L221.7,428.8 L222.2,430.5 L222.6,432.1 L223,433.9 L223.2,435.7 L223.3,437.5 L223.4,439.4 L223.3,441.3 L223.2,443.3 L223,445.3 L222.7,447.3 L222.3,449.3 L221.8,451.3 L221.3,453.2 L220.6,455.2 L219.9,457.2 L219.1,459.1 L218.3,461 L217.3,462.8 L216.3,464.6 L215.3,466.3 L214.1,468 L213,469.6 L211.7,471.1 L210.5,472.5 L209.1,473.9 L207.8,475.1 L206.4,476.3 L205,477.3 L203.6,478.3 L202.1,479.1 L200.7,479.8 L199.2,480.4" fill="none" stroke="#000" stroke-width="1.2"/>
<ellipse cx="196" cy="411" rx="3.3" ry="5" transform="rotate(21 196 411)" fill="none" stroke="#000" stroke-width="1.1"/>
<ellipse cx="229" cy="412" rx="3.3" ry="5" transform="rotate(21 229 412)" fill="none" stroke="#000" stroke-width="1.1"/>
<ellipse cx="229" cy="455" rx="3.3" ry="5" transform="rotate(21 229 455)" fill="none" stroke="#000" stroke-width="1.1"/>
<ellipse cx="196" cy="495" rx="3.3" ry="5" transform="rotate(21 196 495)" fill="none" stroke="#000" stroke-width="1.1"/>
<ellipse cx="165" cy="493" rx="3.3" ry="5" transform="rotate(21 165 493)" fill="none" stroke="#000" stroke-width="1.1"/>
<ellipse cx="165" cy="450" rx="3.3" ry="5" transform="rotate(21 165 450)" fill="none" stroke="#000" stroke-width="1.1"/>
<path d="M193,446 L203,452 M208,462 L216,466" fill="none" stroke="#000" stroke-width="1"/>
<path d="M117,467 Q114,476 126,482 M121,465 Q117,476 128,480" fill="none" stroke="#000" stroke-width="1.2"/>
<path d="M114,462 L118,455 L122,458 L125,451 L129,453 L131,447 L136,449 L139,446 L142,451 L140,456 L144,460 L141,465 L145,470 L141,474 L145,479 L140,484 L137,481 L133,486 L130,481 L126,484" fill="#fff" stroke="#000" stroke-width="1.1"/>
<path d="M124,455 L140,447 M128,463 L143,456 M131,470 L142,466" fill="none" stroke="#000" stroke-width="1"/>
<path d="M36,520 L44,509 L72,492 L88,484 L118,466" fill="none" stroke="#000" stroke-width="1.2"/>
<path d="M38,524 L47,521 L98,497 L126,482" fill="none" stroke="#000" stroke-width="1.2"/>
<path d="M46,510 Q43,516 47,521 M72,493 Q69,500 74,505 M88,484 Q84,492 98,497" fill="none" stroke="#000" stroke-width="1.1"/>
<path d="M46,511 L72,496 M47,513.5 L73,498.5 M48,516 L74,501 M50,518.5 L75,504 M53,520 L76,506.5 M57,507 L70,499.5" fill="none" stroke="#000" stroke-width="1.0"/>
<path d="M40,516 L47,512 M41,520 L48,517" fill="none" stroke="#000" stroke-width="1.0"/>
<path d="M74,491 Q72,498 76,503 M77,490 Q75,497 79,502 M80,488 Q78,495 82,500" fill="none" stroke="#000" stroke-width="1.2"/>
<ellipse cx="39" cy="521" rx="2.8" ry="3.8" transform="rotate(-30 39 521)" fill="none" stroke="#000" stroke-width="1.1"/>
<path d="M122.5,485 L122.5,520 L167,520 L167,507 M143.5,520 L143.5,528" fill="none" stroke="#000" stroke-width="1.1"/>
<path d="M215,571 L215,530 L237,518" fill="none" stroke="#000" stroke-width="1.1"/>
<path d="M240,470 Q236,462 245,462 L262,456 Q270,454 276,460 L280,470 L270,522 Q262,530 250,524 Q240,516 238,490 Z" fill="#fff" stroke="#000" stroke-width="1.2"/>
<path d="M233,484 L233,483.4 L233,482.8 L233.1,482.2 L233.1,481.6 L233.2,481 L233.3,480.4 L233.5,479.8 L233.6,479.1 L233.8,478.5 L234,477.9 L234.2,477.3 L234.4,476.7 L234.7,476.1 L234.9,475.5 L235.2,474.9 L235.5,474.3 L235.8,473.7 L236.1,473.2 L236.4,472.6 L236.8,472.1 L237.1,471.6 L237.5,471.1 L237.8,470.7 L238.2,470.3 L238.6,469.9 L239,469.5 L239.4,469.1 L239.8,468.8 L240.2,468.5 L240.6,468.2 L240.9,467.9 L241.3,467.7 L247.3,464.7 L247.7,464.5 L248.1,464.4 L248.5,464.3 L248.9,464.2 L249.3,464.1 L249.6,464.1 L250,464.1 L250.3,464.1 L250.7,464.2 L251,464.3 L251.3,464.5 L251.6,464.6 L251.9,464.8 L252.1,465.1 L252.4,465.3 L252.6,465.6 L252.9,465.9 L253.1,466.3 L253.2,466.7 L253.4,467.1 L253.6,467.5 L253.7,467.9 L253.8,468.4 L253.9,468.9 L254,469.4 L254,469.9 L254,470.5 L254,471 L254,471.6 L254,472.2 L253.9,472.8 L253.9,473.4 L253.8,474 L253.7,474.6 L253.5,475.2 L253.4,475.9 L253.2,476.5 L253,477.1 L252.8,477.7 L252.6,478.3 L252.3,478.9 L252.1,479.5 L251.8,480.1 L251.5,480.7 L251.2,481.3 L250.9,481.8 L250.6,482.4 L250.2,482.9 L249.9,483.4 L249.5,483.9 L249.2,484.3 L248.8,484.7 L248.4,485.1 L248,485.5 L247.6,485.9 L247.2,486.2 L246.8,486.5 L246.4,486.8 L246.1,487.1 L245.7,487.3 L239.7,490.3 L239.3,490.5 L238.9,490.6 L238.5,490.7 L238.1,490.8 L237.7,490.9 L237.4,490.9 L237,490.9 L236.7,490.9 L236.3,490.8 L236,490.7 L235.7,490.5 L235.4,490.4 L235.1,490.2 L234.9,489.9 L234.6,489.7 L234.4,489.4 L234.1,489.1 L233.9,488.7 L233.8,488.3 L233.6,487.9 L233.4,487.5 L233.3,487.1 L233.2,486.6 L233.1,486.1 L233,485.6 L233,485.1 L233,484.5 Z" fill="#fff" stroke="#000" stroke-width="1.2"/><ellipse cx="240.5" cy="479" rx="6.5" ry="12.5" transform="rotate(21 240.5 479)" fill="#fff" stroke="#000" stroke-width="1.2"/>
<path d="M246,478 Q248,470 256,473 L262,478 L258,494 Q252,498 248,492 Z" fill="none" stroke="#000" stroke-width="1.1"/>
<ellipse cx="251" cy="481" rx="3" ry="3.5" fill="none" stroke="#000" stroke-width="1"/>
<ellipse cx="266.5" cy="464.5" rx="4" ry="3" fill="none" stroke="#000" stroke-width="1.1"/>
<path d="M247.4,520 L247.4,517.3 L247.6,514.5 L247.8,511.7 L248.2,508.9 L248.6,506 L249.2,503.2 L249.9,500.4 L250.7,497.6 L251.6,494.8 L252.6,492 L253.7,489.3 L254.9,486.6 L256.2,484 L257.6,481.5 L259,479 L260.6,476.6 L262.2,474.2 L263.9,472 L265.7,469.8 L267.5,467.8 L269.4,465.8 L271.3,464 L273.3,462.2 L275.4,460.6 L277.4,459.1 L279.6,457.8 L281.7,456.6 L283.8,455.5 L286,454.5 L288.2,453.7 L290.4,453.1 L292.5,452.6 L294.7,452.2 L296.8,452 L299,451.9 L301.1,452 L303.1,452.2 L305.1,452.5 L307.1,453.1 L310.1,454.1 L312.1,454.7 L313.9,455.5 L315.8,456.5 L317.5,457.6 L319.2,458.8 L320.8,460.1 L322.3,461.6 L323.8,463.2 L325.1,464.9 L326.4,466.8 L327.6,468.7 L328.7,470.8 L329.6,472.9 L330.5,475.2 L331.3,477.5 L331.9,479.9 L332.5,482.4 L332.9,485 L333.2,487.6 L333.5,490.2 L333.6,493 L333.6,495.7 L333.4,498.5 L333.2,501.3 L332.8,504.1 L332.4,507 L331.8,509.8 L331.1,512.6 L330.3,515.4 L329.4,518.2 L328.4,521 L327.3,523.7 L326.1,526.4 L324.8,529 L323.4,531.5 L322,534 L320.4,536.5 L318.8,538.8 L317.1,541 L315.3,543.2 L313.5,545.2 L311.6,547.2 L309.7,549 L307.7,550.8 L305.6,552.4 L303.6,553.9 L301.4,555.2 L299.3,556.4 L297.2,557.5 L295,558.5 L292.8,559.3 L290.6,559.9 L288.5,560.5 L286.3,560.8 L284.2,561 L282,561.1 L279.9,561 L277.9,560.8 L275.9,560.5 L273.9,559.9 L270.9,558.9 L268.9,558.3 L267.1,557.5 L265.2,556.5 L263.5,555.5 L261.8,554.2 L260.2,552.9 L258.7,551.4 L257.2,549.8 L255.9,548.1 L254.6,546.2 L253.4,544.3 L252.3,542.2 L251.4,540.1 L250.5,537.8 L249.7,535.5 L249.1,533.1 L248.5,530.6 L248.1,528 L247.8,525.4 L247.5,522.8 Z" fill="#fff" stroke="#000" stroke-width="1.2"/><ellipse cx="292" cy="507" rx="39" ry="56" transform="rotate(21 292 507)" fill="#fff" stroke="#000" stroke-width="1.2"/>
<ellipse cx="292.5" cy="507.5" rx="36.5" ry="53.5" transform="rotate(21 292.5 507.5)" fill="none" stroke="#000" stroke-width="1"/>
<ellipse cx="296" cy="509" rx="29" ry="42" transform="rotate(21 296 509)" fill="none" stroke="#000" stroke-width="1.1"/>
<ellipse cx="298" cy="511" rx="20" ry="29" transform="rotate(21 298 511)" fill="none" stroke="#000" stroke-width="1.1"/>
<path d="M288.7,517 L288.7,516.2 L288.8,515.5 L288.9,514.7 L289,513.9 L289.1,513.1 L289.3,512.3 L289.4,511.6 L289.7,510.8 L289.9,510 L290.2,509.2 L290.5,508.5 L290.8,507.8 L291.2,507 L291.6,506.3 L292,505.6 L292.4,504.9 L292.8,504.3 L293.3,503.7 L293.8,503.1 L294.3,502.5 L294.8,502 L295.3,501.4 L295.9,501 L296.4,500.5 L297,500.1 L297.6,499.7 L298.1,499.4 L298.7,499.1 L299.3,498.8 L299.9,498.6 L300.5,498.4 L301.1,498.2 L301.7,498.1 L302.2,498.1 L302.8,498.1 L303.4,498.1 L303.9,498.1 L304.5,498.2 L305,498.4 L305.6,498.5 L306.1,498.8 L306.6,499 L311.6,502 L312,502.3 L312.5,502.6 L312.9,503 L313.3,503.4 L313.7,503.8 L314.1,504.3 L314.4,504.8 L314.7,505.4 L315,505.9 L315.3,506.5 L315.5,507.1 L315.7,507.8 L315.9,508.4 L316,509.1 L316.1,509.8 L316.2,510.5 L316.2,511.3 L316.3,512 L316.3,512.8 L316.2,513.5 L316.1,514.3 L316,515.1 L315.9,515.9 L315.7,516.7 L315.6,517.5 L315.3,518.2 L315.1,519 L314.8,519.8 L314.5,520.5 L314.2,521.2 L313.8,522 L313.4,522.7 L313,523.4 L312.6,524 L312.2,524.7 L311.7,525.3 L311.2,525.9 L310.7,526.5 L310.2,527 L309.7,527.5 L309.1,528 L308.6,528.5 L308,528.9 L307.4,529.3 L306.9,529.6 L306.3,529.9 L305.7,530.2 L305.1,530.4 L304.5,530.6 L303.9,530.8 L303.3,530.9 L302.8,530.9 L302.2,531 L301.6,530.9 L301.1,530.9 L300.5,530.8 L300,530.6 L299.4,530.5 L298.9,530.2 L298.4,530 L293.4,527 L293,526.7 L292.5,526.4 L292.1,526 L291.7,525.6 L291.3,525.2 L290.9,524.7 L290.6,524.2 L290.3,523.6 L290,523.1 L289.7,522.5 L289.5,521.9 L289.3,521.2 L289.1,520.6 L289,519.9 L288.9,519.2 L288.8,518.5 L288.8,517.7 Z" fill="#fff" stroke="#000" stroke-width="1.2"/><ellipse cx="305" cy="516" rx="10.5" ry="15.5" transform="rotate(21 305 516)" fill="#fff" stroke="#000" stroke-width="1.2"/>
<ellipse cx="305.5" cy="516.5" rx="8" ry="12" transform="rotate(21 305.5 516.5)" fill="none" stroke="#000" stroke-width="1"/>
<path d="M303.1,520.1 L303.1,519.6 L303.1,519 L303.2,518.5 L303.3,517.9 L303.4,517.3 L303.5,516.8 L303.7,516.2 L303.8,515.7 L304,515.1 L304.2,514.6 L304.5,514.1 L304.7,513.6 L305,513.1 L305.3,512.6 L305.6,512.1 L305.9,511.6 L306.3,511.2 L306.6,510.8 L307,510.4 L307.4,510 L307.8,509.6 L308.2,509.3 L308.6,509 L309,508.7 L309.4,508.4 L309.9,508.2 L310.3,508 L310.7,507.8 L311.2,507.7 L311.6,507.6 L312.1,507.4 L312.5,507.4 L312.9,507.4 L313.4,507.3 L313.8,507.4 L314.2,507.4 L314.6,507.5 L315.1,507.6 L315.4,507.7 L315.8,507.9 L319.8,509.9 L320.2,510.1 L320.6,510.3 L320.9,510.6 L321.2,510.8 L321.6,511.1 L321.9,511.4 L322.1,511.8 L322.4,512.1 L322.6,512.5 L322.9,513 L323.1,513.4 L323.3,513.8 L323.4,514.3 L323.6,514.8 L323.7,515.3 L323.8,515.8 L323.9,516.3 L323.9,516.8 L323.9,517.4 L323.9,517.9 L323.9,518.4 L323.9,519 L323.8,519.5 L323.7,520.1 L323.6,520.7 L323.5,521.2 L323.3,521.8 L323.2,522.3 L323,522.9 L322.8,523.4 L322.5,523.9 L322.3,524.4 L322,524.9 L321.7,525.4 L321.4,525.9 L321.1,526.4 L320.7,526.8 L320.4,527.2 L320,527.6 L319.6,528 L319.2,528.4 L318.8,528.7 L318.4,529 L318,529.3 L317.6,529.5 L317.1,529.8 L316.7,530 L316.3,530.2 L315.8,530.3 L315.4,530.5 L314.9,530.5 L314.5,530.6 L314.1,530.6 L313.6,530.7 L313.2,530.6 L312.8,530.6 L312.4,530.5 L311.9,530.4 L311.6,530.3 L311.2,530.1 L307.2,528.1 L306.8,527.9 L306.4,527.7 L306.1,527.5 L305.8,527.2 L305.4,526.9 L305.1,526.6 L304.9,526.2 L304.6,525.9 L304.4,525.5 L304.1,525 L303.9,524.6 L303.7,524.2 L303.6,523.7 L303.4,523.2 L303.3,522.7 L303.2,522.2 L303.1,521.7 L303.1,521.2 L303.1,520.6 Z" fill="#fff" stroke="#000" stroke-width="1.2"/><ellipse cx="315.5" cy="520" rx="8" ry="11" transform="rotate(21 315.5 520)" fill="#fff" stroke="#000" stroke-width="1.2"/>
<ellipse cx="315.5" cy="520.5" rx="4" ry="5.5" transform="rotate(21 315.5 520.5)" fill="none" stroke="#000" stroke-width="1.1"/>
<ellipse cx="263" cy="506" rx="2.5" ry="3.5" transform="rotate(21 263 506)" fill="none" stroke="#000" stroke-width="1.1"/>
<ellipse cx="294.7" cy="464.7" rx="2.5" ry="3.5" transform="rotate(21 294.7 464.7)" fill="none" stroke="#000" stroke-width="1.1"/>
<ellipse cx="326.3" cy="469" rx="2.5" ry="3.5" transform="rotate(21 326.3 469)" fill="none" stroke="#000" stroke-width="1.1"/>
<ellipse cx="264.2" cy="550" rx="2.5" ry="3.5" transform="rotate(21 264.2 550)" fill="none" stroke="#000" stroke-width="1.1"/>
<ellipse cx="294.7" cy="552" rx="2.5" ry="3.5" transform="rotate(21 294.7 552)" fill="none" stroke="#000" stroke-width="1.1"/>
<ellipse cx="328" cy="508" rx="2.5" ry="3.5" transform="rotate(21 328 508)" fill="none" stroke="#000" stroke-width="1.1"/>
<path d="M326,504 L331,500 L332,510" fill="none" stroke="#000" stroke-width="1"/>
<path d="M293,549 L297,556 M291,553 L298,551" fill="none" stroke="#000" stroke-width="1"/>
<path d="M324,526 L390,563 M432,588 L440,593" fill="none" stroke="#000" stroke-width="1" stroke-dasharray="12 3 2 3"/>
<path d="M294,570 L310,557" fill="none" stroke="#000" stroke-width="1" stroke-dasharray="5 3"/>
<line x1="267.5" y1="373.5" x2="267.5" y2="456" stroke="#000" stroke-width="1" stroke-dasharray="7 4"/>
<path d="M303,575 L318,582 L316,586 L301,579 Z" fill="#fff" stroke="#000" stroke-width="1.1"/>
<path d="M305,575.5 L303,580 M308,577 L306,581.5 M311,578.5 L309,583 M314,580 L312,584.5" fill="none" stroke="#000" stroke-width="1"/>
<path d="M317.3,585.7 L317.3,585.4 L317.3,585.1 L317.3,584.8 L317.4,584.5 L317.4,584.2 L317.5,584 L317.6,583.7 L317.7,583.4 L317.8,583.2 L317.9,583 L318.1,582.7 L318.2,582.5 L318.3,582.3 L318.5,582.1 L318.7,581.9 L318.9,581.8 L319.1,581.6 L319.2,581.5 L319.4,581.4 L319.7,581.3 L319.9,581.2 L322.9,580.2 L323.1,580.1 L323.3,580 L323.6,580 L323.8,580 L324.1,580 L324.3,580 L324.5,580 L324.8,580 L325,580.1 L325.3,580.2 L325.8,580.4 L326,580.5 L326.2,580.6 L326.5,580.8 L326.7,581 L326.9,581.1 L327.2,581.3 L327.4,581.5 L327.6,581.8 L327.8,582 L328,582.2 L328.2,582.5 L328.4,582.7 L328.5,583 L328.7,583.3 L329,583.9 L329.1,584.2 L329.2,584.5 L329.4,585.1 L329.5,585.4 L329.6,585.7 L329.6,586 L329.7,586.3 L329.7,586.6 L329.7,587 L329.7,587.3 L329.7,587.6 L329.7,587.9 L329.7,588.2 L329.6,588.5 L329.6,588.8 L329.5,589 L329.4,589.3 L329.3,589.6 L329.2,589.8 L329.1,590 L328.9,590.3 L328.8,590.5 L328.7,590.7 L328.5,590.9 L328.3,591.1 L328.1,591.2 L327.9,591.4 L327.8,591.5 L327.6,591.6 L327.3,591.7 L327.1,591.8 L324.1,592.8 L323.9,592.9 L323.7,593 L323.4,593 L323.2,593 L322.9,593 L322.7,593 L322.5,593 L322.2,593 L322,592.9 L321.7,592.8 L321.2,592.6 L321,592.5 L320.8,592.4 L320.5,592.2 L320.3,592 L320.1,591.9 L319.8,591.7 L319.6,591.5 L319.4,591.2 L319.2,591 L319,590.8 L318.8,590.5 L318.6,590.3 L318.5,590 L318.3,589.7 L318,589.1 L317.9,588.8 L317.8,588.5 L317.6,587.9 L317.5,587.6 L317.4,587.3 L317.4,587 L317.3,586.7 L317.3,586.4 L317.3,586 Z" fill="#fff" stroke="#000" stroke-width="1.2"/><ellipse cx="322" cy="587" rx="4.5" ry="6.2" transform="rotate(-20 322 587)" fill="#fff" stroke="#000" stroke-width="1.2"/>
<line x1="320" y1="593" x2="320" y2="612" stroke="#000" stroke-width="1.1"/>
<line x1="408" y1="517" x2="408" y2="548" stroke="#000" stroke-width="1.1"/>
<path d="M383.6,576.6 L383.6,575.4 L383.7,574.1 L383.9,572.9 L384.1,571.6 L384.3,570.3 L384.6,569.1 L385,567.9 L385.4,566.6 L385.9,565.4 L386.4,564.3 L386.9,563.1 L387.5,562 L388.1,560.9 L388.8,559.9 L389.5,558.9 L390.3,557.9 L391.1,557 L391.9,556.1 L392.7,555.3 L393.6,554.5 L394.5,553.8 L395.4,553.1 L396.4,552.5 L397.3,552 L398.3,551.5 L399.3,551 L400.3,550.7 L401.3,550.4 L402.3,550.1 L403.4,550 L404.4,549.9 L405.4,549.8 L406.4,549.9 L407.4,550 L408.4,550.1 L409.3,550.3 L419.3,553.3 L420.3,553.6 L421.2,554 L422.1,554.4 L423,554.9 L423.9,555.4 L424.7,556 L425.5,556.7 L426.3,557.4 L427,558.1 L427.7,559 L428.3,559.8 L428.9,560.7 L429.5,561.7 L430,562.7 L430.5,563.7 L430.9,564.8 L431.2,565.9 L431.6,567.1 L431.9,568.2 L432.1,569.4 L432.2,570.6 L432.4,571.9 L432.4,573.1 L432.4,574.4 L432.4,575.6 L432.3,576.9 L432.1,578.1 L431.9,579.4 L431.7,580.7 L431.4,581.9 L431,583.1 L430.6,584.4 L430.1,585.6 L429.6,586.7 L429.1,587.9 L428.5,589 L427.9,590.1 L427.2,591.1 L426.5,592.1 L425.7,593.1 L424.9,594 L424.1,594.9 L423.3,595.7 L422.4,596.5 L421.5,597.2 L420.6,597.9 L419.6,598.5 L418.7,599 L417.7,599.5 L416.7,600 L415.7,600.3 L414.7,600.6 L413.7,600.9 L412.6,601 L411.6,601.1 L410.6,601.2 L409.6,601.1 L408.6,601 L407.6,600.9 L406.7,600.7 L396.7,597.7 L395.7,597.4 L394.8,597 L393.9,596.6 L393,596.1 L392.1,595.6 L391.3,595 L390.5,594.3 L389.7,593.6 L389,592.9 L388.3,592 L387.7,591.2 L387.1,590.3 L386.5,589.3 L386,588.3 L385.5,587.3 L385.1,586.2 L384.8,585.1 L384.4,583.9 L384.1,582.8 L383.9,581.6 L383.8,580.4 L383.6,579.1 L383.6,577.9 Z" fill="#fff" stroke="#000" stroke-width="1.2"/><ellipse cx="413" cy="577" rx="19" ry="24.5" transform="rotate(15 413 577)" fill="#fff" stroke="#000" stroke-width="1.2"/>
<ellipse cx="413" cy="577" rx="15.5" ry="20.5" transform="rotate(15 413 577)" fill="none" stroke="#000" stroke-width="1.8"/>
<ellipse cx="413.5" cy="577.5" rx="11.5" ry="15.5" transform="rotate(15 413.5 577.5)" fill="none" stroke="#000" stroke-width="1"/>
<ellipse cx="414" cy="578" rx="7.5" ry="10.5" transform="rotate(15 414 578)" fill="none" stroke="#000" stroke-width="1.2"/>
<ellipse cx="414" cy="578" rx="4.5" ry="6.5" transform="rotate(15 414 578)" fill="none" stroke="#000" stroke-width="1"/>
<path d="M410,575 L418,581" fill="none" stroke="#000" stroke-width="1"/>
<line x1="464.2" y1="550" x2="464.2" y2="583" stroke="#000" stroke-width="1.1"/>
<path d="M444.2,611.1 L444.3,609.8 L444.4,608.6 L444.5,607.4 L444.8,606.1 L445,604.9 L445.3,603.6 L445.7,602.4 L446.1,601.2 L446.6,600 L447.1,598.8 L447.6,597.6 L448.2,596.5 L448.9,595.4 L449.6,594.4 L450.3,593.3 L451,592.4 L451.8,591.4 L452.6,590.5 L453.5,589.6 L454.4,588.9 L455.3,588.1 L456.2,587.4 L457.1,586.8 L458.1,586.2 L459.1,585.6 L460.1,585.2 L461.1,584.8 L462.1,584.4 L463.1,584.1 L464.1,583.9 L466.6,583.4 L467.6,583.2 L468.6,583.1 L469.6,583.1 L470.6,583.2 L471.6,583.3 L472.5,583.4 L473.5,583.7 L474.4,584 L475.3,584.3 L476.1,584.8 L477,585.2 L477.8,585.8 L478.6,586.4 L479.3,587.1 L480.1,587.8 L480.7,588.5 L481.4,589.4 L481.9,590.2 L482.5,591.1 L483,592.1 L483.4,593.1 L483.9,594.1 L484.2,595.2 L484.5,596.3 L484.8,597.4 L485,598.6 L485.1,599.8 L485.2,601 L485.3,602.2 L485.3,603.4 L485.2,604.7 L485.1,605.9 L485,607.1 L484.8,608.4 L484.5,609.6 L484.2,610.9 L483.8,612.1 L483.4,613.3 L482.9,614.5 L482.4,615.7 L481.9,616.9 L481.3,618 L480.6,619.1 L479.9,620.1 L479.2,621.2 L478.5,622.1 L477.7,623.1 L476.9,624 L476,624.9 L475.1,625.6 L474.2,626.4 L473.3,627.1 L472.4,627.8 L471.4,628.3 L470.4,628.9 L469.4,629.3 L468.4,629.8 L467.4,630.1 L466.4,630.4 L465.4,630.6 L462.9,631.1 L461.9,631.3 L460.9,631.4 L459.9,631.4 L458.9,631.3 L457.9,631.2 L457,631.1 L456,630.8 L455.1,630.5 L454.2,630.2 L453.4,629.7 L452.5,629.2 L451.7,628.7 L450.9,628.1 L450.2,627.4 L449.4,626.7 L448.8,626 L448.1,625.1 L447.6,624.3 L447,623.4 L446.5,622.4 L446.1,621.4 L445.6,620.4 L445.3,619.3 L445,618.2 L444.7,617.1 L444.5,615.9 L444.4,614.7 L444.2,613.5 L444.2,612.3 Z" fill="#fff" stroke="#000" stroke-width="1.2"/><ellipse cx="466" cy="607" rx="18.5" ry="24.5" transform="rotate(20 466 607)" fill="#fff" stroke="#000" stroke-width="1.2"/>
<ellipse cx="466" cy="607.5" rx="16.5" ry="22.5" transform="rotate(20 466 607.5)" fill="none" stroke="#000" stroke-width="1"/>
<ellipse cx="466" cy="608" rx="12" ry="16.5" transform="rotate(20 466 608)" fill="none" stroke="#000" stroke-width="1.2"/>
<ellipse cx="466.5" cy="608" rx="10.5" ry="15" transform="rotate(20 466.5 608)" fill="none" stroke="#000" stroke-width="1"/><line x1="430.3" y1="370" x2="430.3" y2="395" stroke="#000" stroke-width="1.1"/>
<path d="M413.9,351.6 L413.9,350.5 L414,349.4 L414.2,348.4 L414.3,347.3 L414.6,346.2 L414.8,345.1 L415.1,344.1 L415.5,343.1 L415.9,342 L416.3,341 L416.8,340 L417.3,339.1 L417.9,338.1 L418.5,337.2 L419.1,336.4 L419.8,335.5 L420.4,334.7 L421.2,333.9 L421.9,333.2 L422.7,332.5 L423.5,331.9 L424.3,331.3 L425.1,330.8 L426,330.3 L426.8,329.8 L427.7,329.4 L428.6,329.1 L429.5,328.8 L430.4,328.6 L431.3,328.4 L432.8,328.1 L433.6,327.9 L434.5,327.9 L435.4,327.9 L436.3,327.9 L437.2,328 L438,328.2 L438.9,328.4 L439.7,328.7 L440.5,329 L441.3,329.4 L442,329.8 L442.8,330.3 L443.4,330.8 L444.1,331.4 L444.8,332 L445.4,332.7 L445.9,333.4 L446.5,334.1 L447,334.9 L447.4,335.8 L447.8,336.6 L448.2,337.5 L448.5,338.4 L448.8,339.4 L449.1,340.4 L449.3,341.4 L449.4,342.4 L449.5,343.4 L449.6,344.5 L449.6,345.5 L449.6,346.6 L449.5,347.7 L449.3,348.7 L449.2,349.8 L448.9,350.9 L448.7,351.9 L448.4,353 L448,354 L447.6,355.1 L447.2,356.1 L446.7,357.1 L446.2,358 L445.6,359 L445,359.9 L444.4,360.7 L443.7,361.6 L443.1,362.4 L442.3,363.1 L441.6,363.9 L440.8,364.6 L440,365.2 L439.2,365.8 L438.4,366.3 L437.5,366.8 L436.7,367.3 L435.8,367.7 L434.9,368 L434,368.3 L433.1,368.5 L432.2,368.7 L430.7,369 L429.9,369.1 L429,369.2 L428.1,369.2 L427.2,369.2 L426.3,369.1 L425.5,368.9 L424.6,368.7 L423.8,368.4 L423,368.1 L422.2,367.7 L421.5,367.3 L420.8,366.8 L420.1,366.3 L419.4,365.7 L418.7,365.1 L418.1,364.4 L417.6,363.7 L417,363 L416.5,362.2 L416.1,361.4 L415.7,360.5 L415.3,359.6 L415,358.7 L414.7,357.7 L414.4,356.7 L414.2,355.7 L414.1,354.7 L414,353.7 L413.9,352.6 Z" fill="#fff" stroke="#000" stroke-width="1.2"/><ellipse cx="432.5" cy="348.4" rx="16.5" ry="21" transform="rotate(20 432.5 348.4)" fill="#fff" stroke="#000" stroke-width="1.2"/>
<ellipse cx="432.8" cy="348.8" rx="12.5" ry="17" transform="rotate(20 432.8 348.8)" fill="none" stroke="#000" stroke-width="1.1"/>
<path d="M440,354 L445,357" fill="none" stroke="#000" stroke-width="1"/>
<path d="M425,344 L432,349" fill="none" stroke="#000" stroke-width="1"/>
<line x1="488.1" y1="330" x2="488.1" y2="358" stroke="#000" stroke-width="1.1"/>
<path d="M496.1,384.1 L497.3,385.9 L495.8,389.2 L493.4,389.7 L492.8,390.6 L493.4,392.9 L491.1,395.6 L488.9,395 L488.2,395.6 L488.1,398.3 L485.4,400 L483.7,398.3 L482.8,398.7 L482,401.3 L479.2,401.8 L478.2,399.4 L477.4,399.3 L475.9,401.6 L473.4,400.9 L473.2,398 L472.5,397.5 L470.6,399.2 L468.6,397.3 L469.2,394.3 L468.7,393.5 L466.7,394.4 L465.5,391.6 L466.8,388.7 L466.6,387.8 L464.6,387.7 L464.3,384.3 L466.2,382 L466.3,380.9 L464.6,380 L465.2,376.4 L467.5,374.9 L467.9,373.9 L466.7,372.1 L468.2,368.8 L470.6,368.3 L471.2,367.4 L470.6,365.1 L472.9,362.4 L475.1,363 L475.8,362.4 L475.9,359.7 L478.6,358 L480.3,359.7 L481.2,359.3 L482,356.7 L484.8,356.2 L485.8,358.6 L486.6,358.7 L488.1,356.4 L490.6,357.1 L490.8,360 L491.5,360.5 L493.4,358.8 L495.4,360.7 L494.8,363.7 L495.3,364.5 L497.3,363.6 L498.5,366.4 L497.2,369.3 L497.4,370.2 L499.4,370.3 L499.7,373.7 L497.8,376 L497.7,377.1 L499.4,378 L498.8,381.6 L496.5,383.1 Z" fill="#fff" stroke="#000" stroke-width="1.1"/>
<path d="M495.5,383.3 L495.8,384.8 M494.1,385.9 L492.4,391.1 M492.2,387.9 L487.7,396 M490.1,389 L482.3,398.8 M487.9,389.2 L476.8,399.3 M486,388.4 L472,397.2 M484.5,386.7 L468.4,393 M483.8,384.3 L466.5,387.1 M483.7,381.5 L466.4,380.2 M484.5,378.7 L468.2,373.2 M485.9,376.1 L471.6,366.9 M487.8,374.1 L476.3,362 M489.9,373 L481.7,359.2 M492.1,372.8 L487.2,358.7 M494,373.6 L492,360.8 M495.5,375.3 L495.6,365 M496.2,377.7 L497.5,370.9 M496.3,380.5 L497.6,377.8" fill="none" stroke="#000" stroke-width="0.9900000000000001"/>
<ellipse cx="490" cy="381" rx="6" ry="8.5" transform="rotate(20 490 381)" fill="#fff" stroke="#000" stroke-width="1.1"/>
<path d="M483.7,382.8 L483.7,382.4 L483.7,381.9 L483.7,381.5 L483.8,381.1 L483.9,380.6 L484,380.2 L484.1,379.8 L484.2,379.4 L484.4,378.9 L484.5,378.5 L484.7,378.1 L484.9,377.7 L485.1,377.3 L485.3,376.9 L485.5,376.6 L485.8,376.2 L486,375.9 L486.3,375.6 L486.6,375.2 L486.9,374.9 L487.1,374.6 L487.4,374.4 L487.8,374.1 L488.1,373.9 L488.4,373.7 L488.7,373.5 L489,373.3 L489.4,373.2 L489.7,373.1 L490,372.9 L490.4,372.9 L490.7,372.8 L491,372.8 L491.4,372.8 L491.7,372.8 L492,372.8 L492.3,372.8 L492.6,372.9 L492.9,373 L495.9,374 L496.2,374.1 L496.5,374.3 L496.8,374.4 L497,374.6 L497.3,374.8 L497.5,375 L497.7,375.3 L497.9,375.5 L498.1,375.8 L498.3,376.1 L498.5,376.4 L498.7,376.7 L498.8,377.1 L498.9,377.4 L499,377.8 L499.1,378.2 L499.2,378.6 L499.3,379 L499.3,379.4 L499.3,379.8 L499.3,380.2 L499.3,380.6 L499.3,381.1 L499.3,381.5 L499.2,381.9 L499.1,382.4 L499,382.8 L498.9,383.2 L498.8,383.6 L498.6,384.1 L498.5,384.5 L498.3,384.9 L498.1,385.3 L497.9,385.7 L497.7,386.1 L497.5,386.4 L497.2,386.8 L497,387.1 L496.7,387.4 L496.4,387.8 L496.1,388.1 L495.9,388.4 L495.6,388.6 L495.2,388.9 L494.9,389.1 L494.6,389.3 L494.3,389.5 L494,389.7 L493.6,389.8 L493.3,389.9 L493,390.1 L492.6,390.1 L492.3,390.2 L492,390.2 L491.6,390.2 L491.3,390.2 L491,390.2 L490.7,390.2 L490.4,390.1 L490.1,390 L487.1,389 L486.8,388.9 L486.5,388.7 L486.2,388.6 L486,388.4 L485.7,388.2 L485.5,388 L485.3,387.7 L485.1,387.5 L484.9,387.2 L484.7,386.9 L484.5,386.6 L484.3,386.3 L484.2,385.9 L484.1,385.6 L484,385.2 L483.9,384.8 L483.8,384.4 L483.7,384 L483.7,383.6 L483.7,383.2 Z" fill="#fff" stroke="#000" stroke-width="1.2"/><ellipse cx="490" cy="381" rx="6" ry="8.5" transform="rotate(20 490 381)" fill="#fff" stroke="#000" stroke-width="1.2"/>
<ellipse cx="490" cy="381" rx="3.5" ry="5" transform="rotate(20 490 381)" fill="none" stroke="#000" stroke-width="1"/>
<path d="M445,355.5 L465,367.4 M501.8,388.7 L542,412 M559.5,422 L606.7,450 M645.4,473.6 L660.6,480.5" fill="none" stroke="#000" stroke-width="1" stroke-dasharray="12 3 2 3"/>
<path d="M568.5,344 L570.9,344.8 L570.4,347.1 L567.5,347.8 L567.2,348.4 L568.9,349.7 L567.1,351.7 L564.1,351.6 L563.4,352.1 L564.3,353.8 L561.4,355.2 L558.6,354.3 L557.7,354.6 L557.5,356.4 L554.1,356.9 L552,355.5 L551,355.5 L549.8,357.1 L546.3,356.7 L545.3,354.9 L544.3,354.6 L542.3,355.8 L539.3,354.6 L539.4,352.6 L538.6,352.1 L536.1,352.7 L534,350.8 L535.3,349 L534.8,348.4 L532.2,348.3 L531.3,346.1 L533.5,344.7 L533.5,344 L531.1,343.2 L531.6,340.9 L534.5,340.2 L534.8,339.6 L533.1,338.3 L534.9,336.3 L537.9,336.4 L538.6,335.9 L537.7,334.2 L540.6,332.8 L543.4,333.7 L544.3,333.4 L544.5,331.6 L547.9,331.1 L550,332.5 L551,332.5 L552.2,330.9 L555.7,331.3 L556.7,333.1 L557.7,333.4 L559.7,332.2 L562.7,333.4 L562.6,335.4 L563.4,335.9 L565.9,335.3 L568,337.2 L566.7,339 L567.2,339.6 L569.8,339.7 L570.7,341.9 L568.5,343.3 Z" fill="#fff" stroke="#000" stroke-width="1.0"/>
<path d="M563.2,344.3 L568.5,344.5 M562.1,347.4 L566.9,348.8 M559.3,349.9 L562.9,352.4 M555.2,351.6 L557.1,354.8 M550.5,352 L550.3,355.5 M545.9,351.3 L543.7,354.4 M542,349.5 L538.1,351.8 M539.5,346.8 L534.6,348 M538.8,343.7 L533.5,343.5 M539.9,340.6 L535.1,339.2 M542.7,338.1 L539.1,335.6 M546.8,336.4 L544.9,333.2 M551.5,336 L551.7,332.5 M556.1,336.7 L558.3,333.6 M560,338.5 L563.9,336.2 M562.5,341.2 L567.4,340" fill="none" stroke="#000" stroke-width="0.9"/>
<ellipse cx="551" cy="341.5" rx="7" ry="3.6" fill="#fff" stroke="#000" stroke-width="1.0"/>
<ellipse cx="551" cy="343" rx="12.5" ry="8" fill="none" stroke="#000" stroke-width="1.0"/>
<line x1="571" y1="344" x2="596" y2="344" stroke="#000" stroke-width="1.1"/>
<path d="M542.5,384 L542.5,449 Q542.5,453 546,453 L556,453 Q559.3,453 559.3,449 L559.3,384" fill="#fff" stroke="#000" stroke-width="1.1" stroke-dasharray="6 1.5"/>
<ellipse cx="550.9" cy="384" rx="8.4" ry="3.5" fill="#fff" stroke="#000" stroke-width="1.1"/>
<line x1="510" y1="428" x2="542.5" y2="428" stroke="#000" stroke-width="1.1"/>
<path d="M550,357 L550,381 M550,454 L550,472 M550,498 L550,539" fill="none" stroke="#000" stroke-width="1" stroke-dasharray="6 3"/>
<path d="M510,457 L521,457 L540,472" fill="none" stroke="#000" stroke-width="1.1"/>
<path d="M569,487 L571.1,487.7 L570.6,489.6 L568,490.3 L567.6,490.8 L569.1,491.9 L567.3,493.6 L564.5,493.6 L563.7,494.1 L564.4,495.4 L561.5,496.5 L558.9,496 L557.9,496.2 L557.6,497.6 L554.2,498.1 L552.1,497 L551,497 L549.8,498.2 L546.3,497.9 L545.1,496.4 L544.1,496.2 L542.2,497.1 L539.2,496.1 L539,494.5 L538.3,494.1 L535.9,494.4 L533.8,492.9 L534.8,491.4 L534.4,490.8 L532,490.7 L531.1,488.8 L533,487.6 L533,487 L530.9,486.3 L531.4,484.4 L534,483.7 L534.4,483.2 L532.9,482.1 L534.7,480.4 L537.5,480.4 L538.3,479.9 L537.6,478.6 L540.5,477.5 L543.1,478 L544.1,477.8 L544.4,476.4 L547.8,475.9 L549.9,477 L551,477 L552.2,475.8 L555.7,476.1 L556.9,477.6 L557.9,477.8 L559.8,476.9 L562.8,477.9 L563,479.5 L563.7,479.9 L566.1,479.6 L568.2,481.1 L567.2,482.6 L567.6,483.2 L570,483.3 L570.9,485.2 L569,486.4 Z" fill="#fff" stroke="#000" stroke-width="1.0"/>
<path d="M557,478.6 L569,487.4 M556.4,479.8 L567.3,491.2 M555.1,480.7 L563.2,494.3 M553.1,481.3 L557.2,496.4 M550.8,481.5 L550.3,497 M548.5,481.2 L543.5,496.1 M546.6,480.5 L537.8,493.8 M545.4,479.5 L534.1,490.5 M545,478.4 L533,486.6 M545.6,477.2 L534.7,482.8 M546.9,476.3 L538.8,479.7 M548.9,475.7 L544.8,477.6 M551.2,475.5 L551.7,477 M553.5,475.8 L558.5,477.9 M555.4,476.5 L564.2,480.2 M556.6,477.5 L567.9,483.5" fill="none" stroke="#000" stroke-width="0.9"/>
<ellipse cx="551" cy="478.5" rx="6" ry="3" fill="#fff" stroke="#000" stroke-width="1.0"/>
<path d="M533,487 L545,476 M569,487 L557,476 M540,494 L548,477 M562,494 L554,477 M551,497 L551,478" fill="none" stroke="#000" stroke-width="1"/>
<line x1="623.3" y1="412" x2="623.3" y2="439" stroke="#000" stroke-width="1.1"/>
<path d="M634.2,463.8 L635.6,465.6 L634,468.8 L631.6,469.1 L631,469.9 L631.8,472.4 L629.6,475 L627.4,474.1 L626.7,474.7 L626.7,477.6 L624.1,479.2 L622.4,477.4 L621.7,477.7 L620.9,480.6 L618.2,481.1 L617.3,478.4 L616.5,478.3 L615.1,480.9 L612.7,480.2 L612.6,477.1 L612,476.7 L610,478.6 L608.2,476.8 L608.9,473.6 L608.5,472.9 L606.3,474 L605.2,471.3 L606.7,468.3 L606.5,467.4 L604.3,467.5 L604.1,464.2 L606.2,461.9 L606.3,460.9 L604.4,460 L605.1,456.6 L607.5,455.2 L607.8,454.2 L606.4,452.4 L608,449.2 L610.4,448.9 L611,448.1 L610.2,445.6 L612.4,443 L614.6,443.9 L615.3,443.3 L615.3,440.4 L617.9,438.8 L619.6,440.6 L620.3,440.3 L621.1,437.4 L623.8,436.9 L624.7,439.6 L625.5,439.7 L626.9,437.1 L629.3,437.8 L629.4,440.9 L630,441.3 L632,439.4 L633.8,441.2 L633.1,444.4 L633.5,445.1 L635.7,444 L636.8,446.7 L635.3,449.7 L635.5,450.6 L637.7,450.5 L637.9,453.8 L635.8,456.1 L635.7,457.1 L637.6,458 L636.9,461.4 L634.5,462.8 Z" fill="#fff" stroke="#000" stroke-width="1.1"/>
<path d="M638.4,464.1 L633.9,464.4 M636.6,467.2 L630.6,470.5 M634.2,469.6 L626.2,475.1 M631.4,471 L621.1,477.8 M628.5,471.2 L616.1,478.3 M625.9,470.1 L611.6,476.4 M624,467.9 L608.2,472.4 M622.9,464.9 L606.4,466.8 M622.7,461.4 L606.4,460.3 M623.6,457.9 L608.1,453.6 M625.4,454.8 L611.4,447.5 M627.8,452.4 L615.8,442.9 M630.6,451 L620.9,440.2 M633.5,450.8 L625.9,439.7 M636.1,451.9 L630.4,441.6 M638,454.1 L633.8,445.6 M639.1,457.1 L635.6,451.2 M639.3,460.6 L635.6,457.7" fill="none" stroke="#000" stroke-width="0.9900000000000001"/>
<ellipse cx="631" cy="461" rx="8" ry="10.5" transform="rotate(20 631 461)" fill="#fff" stroke="#000" stroke-width="1.1"/>
<path d="M622.7,462.5 L622.7,462 L622.7,461.4 L622.8,460.9 L622.9,460.4 L623,459.8 L623.1,459.3 L623.3,458.8 L623.5,458.3 L623.7,457.8 L623.9,457.2 L624.1,456.8 L624.4,456.3 L624.7,455.8 L625,455.4 L625.3,454.9 L625.6,454.5 L625.9,454.1 L626.3,453.7 L626.6,453.3 L627,453 L627.4,452.7 L627.8,452.4 L628.2,452.1 L628.6,451.8 L629.1,451.6 L629.5,451.4 L629.9,451.2 L630.4,451.1 L630.8,451 L631.2,450.9 L631.7,450.8 L632.1,450.8 L632.5,450.8 L633,450.8 L633.4,450.8 L633.8,450.9 L634.2,451 L634.6,451.1 L637.6,452.1 L638,452.3 L638.4,452.5 L638.7,452.7 L639.1,452.9 L639.4,453.2 L639.7,453.5 L640,453.8 L640.3,454.1 L640.6,454.4 L640.9,454.8 L641.1,455.2 L641.3,455.6 L641.5,456.1 L641.7,456.5 L641.9,457 L642,457.4 L642.1,457.9 L642.2,458.4 L642.3,458.9 L642.3,459.4 L642.3,460 L642.3,460.5 L642.3,461 L642.3,461.6 L642.2,462.1 L642.1,462.6 L642,463.2 L641.9,463.7 L641.7,464.2 L641.5,464.7 L641.3,465.2 L641.1,465.8 L640.9,466.2 L640.6,466.7 L640.3,467.2 L640,467.6 L639.7,468.1 L639.4,468.5 L639.1,468.9 L638.7,469.3 L638.4,469.7 L638,470 L637.6,470.3 L637.2,470.6 L636.8,470.9 L636.4,471.2 L635.9,471.4 L635.5,471.6 L635.1,471.8 L634.6,471.9 L634.2,472 L633.8,472.1 L633.3,472.2 L632.9,472.2 L632.5,472.2 L632,472.2 L631.6,472.2 L631.2,472.1 L630.8,472 L630.4,471.9 L627.4,470.9 L627,470.7 L626.6,470.5 L626.3,470.3 L625.9,470.1 L625.6,469.8 L625.3,469.5 L625,469.2 L624.7,468.9 L624.4,468.6 L624.1,468.2 L623.9,467.8 L623.7,467.4 L623.5,466.9 L623.3,466.5 L623.1,466 L623,465.6 L622.9,465.1 L622.8,464.6 L622.7,464.1 L622.7,463.6 L622.7,463 Z" fill="#fff" stroke="#000" stroke-width="1.2"/><ellipse cx="631" cy="461" rx="8" ry="10.5" transform="rotate(20 631 461)" fill="#fff" stroke="#000" stroke-width="1.2"/>
<ellipse cx="632" cy="461.5" rx="4" ry="6" transform="rotate(20 632 461.5)" fill="none" stroke="#000" stroke-width="1"/>
<line x1="673.6" y1="443" x2="673.6" y2="467" stroke="#000" stroke-width="1.1"/>
<path d="M654.5,491 L654.5,489.9 L654.6,488.8 L654.7,487.7 L654.9,486.6 L655.1,485.5 L655.4,484.4 L655.7,483.4 L656.1,482.3 L656.5,481.3 L656.9,480.2 L657.4,479.2 L657.9,478.3 L658.5,477.3 L659.1,476.4 L659.8,475.5 L660.5,474.6 L661.2,473.8 L661.9,473.1 L662.7,472.3 L663.5,471.6 L664.3,471 L665.2,470.4 L666,469.9 L666.9,469.4 L667.8,468.9 L668.8,468.5 L669.7,468.2 L670.6,467.9 L671.6,467.7 L673.1,467.4 L674,467.2 L674.9,467.1 L675.9,467 L676.8,467 L677.7,467.1 L678.7,467.2 L679.6,467.4 L680.5,467.6 L681.3,467.9 L682.2,468.2 L683,468.6 L683.8,469.1 L684.6,469.6 L685.3,470.1 L686,470.7 L686.7,471.4 L687.4,472.1 L688,472.8 L688.6,473.6 L689.1,474.4 L689.6,475.2 L690,476.1 L690.4,477.1 L690.8,478 L691.1,479 L691.4,480 L691.6,481 L691.8,482.1 L691.9,483.1 L692,484.2 L692,485.3 L692,486.4 L691.9,487.5 L691.8,488.6 L691.6,489.7 L691.4,490.8 L691.1,491.9 L690.8,492.9 L690.4,494 L690,495 L689.6,496.1 L689.1,497.1 L688.6,498 L688,499 L687.4,499.9 L686.7,500.8 L686,501.6 L685.3,502.5 L684.6,503.2 L683.8,504 L683,504.7 L682.2,505.3 L681.3,505.9 L680.5,506.4 L679.6,506.9 L678.7,507.4 L677.7,507.8 L676.8,508.1 L675.9,508.4 L674.9,508.6 L673.4,508.9 L672.5,509.1 L671.6,509.2 L670.6,509.3 L669.7,509.3 L668.8,509.2 L667.8,509.1 L666.9,508.9 L666,508.7 L665.2,508.4 L664.3,508.1 L663.5,507.7 L662.7,507.2 L661.9,506.7 L661.2,506.2 L660.5,505.6 L659.8,504.9 L659.1,504.2 L658.5,503.5 L657.9,502.7 L657.4,501.9 L656.9,501.1 L656.5,500.2 L656.1,499.2 L655.7,498.3 L655.4,497.3 L655.1,496.3 L654.9,495.3 L654.7,494.2 L654.6,493.2 L654.5,492.1 Z" fill="#fff" stroke="#000" stroke-width="1.2"/><ellipse cx="674" cy="488" rx="17.5" ry="21.4" transform="rotate(20 674 488)" fill="#fff" stroke="#000" stroke-width="1.2"/>
<ellipse cx="674.3" cy="488.5" rx="13.5" ry="17.4" transform="rotate(20 674.3 488.5)" fill="none" stroke="#000" stroke-width="1.1"/><line x1="616.8" y1="629" x2="616.8" y2="673.4" stroke="#000" stroke-width="1.1"/>
<path d="M598.9,692 L598.9,690.9 L599,689.8 L599.2,688.6 L599.4,687.5 L599.6,686.4 L599.9,685.4 L600.2,684.4 L600.6,683.4 L601,682.4 L601.5,681.5 L602,680.6 L602.5,679.8 L603.1,679 L603.7,678.2 L604.4,677.5 L605.1,676.9 L605.8,676.3 L606.6,675.7 L607.4,675.2 L608.2,674.8 L609,674.4 L609.9,674.1 L610.8,673.9 L612.8,673.4 L613.7,673.2 L614.6,673 L615.5,673 L616.4,673 L617.4,673 L618.3,673.1 L619.3,673.3 L620.2,673.5 L621.2,673.9 L622.1,674.2 L623,674.6 L624,675.1 L624.9,675.6 L625.7,676.2 L626.6,676.8 L627.5,677.5 L628.3,678.3 L629.1,679 L629.9,679.9 L630.6,680.8 L631.3,681.7 L632,682.6 L632.6,683.6 L633.2,684.6 L633.8,685.7 L634.3,686.7 L634.8,687.8 L635.2,689 L635.6,690.1 L636,691.2 L636.3,692.4 L636.5,693.6 L636.8,694.8 L636.9,695.9 L637,697.1 L637.1,698.3 L637.1,699.5 L637.1,700.6 L637,701.8 L636.8,702.9 L636.6,704 L636.4,705.1 L636.1,706.1 L635.8,707.1 L635.4,708.1 L635,709.1 L634.5,710 L634,710.9 L633.5,711.7 L632.9,712.5 L632.3,713.3 L631.6,714 L630.9,714.6 L630.2,715.2 L629.4,715.8 L628.6,716.3 L627.8,716.7 L627,717.1 L626.1,717.4 L625.2,717.6 L623.2,718.1 L622.3,718.3 L621.4,718.5 L620.5,718.5 L619.6,718.5 L618.6,718.5 L617.7,718.4 L616.7,718.2 L615.8,718 L614.8,717.6 L613.9,717.3 L613,716.9 L612,716.4 L611.1,715.9 L610.3,715.3 L609.4,714.7 L608.5,714 L607.7,713.2 L606.9,712.5 L606.1,711.6 L605.4,710.8 L604.7,709.8 L604,708.9 L603.4,707.9 L602.8,706.9 L602.2,705.8 L601.7,704.8 L601.2,703.7 L600.8,702.5 L600.4,701.4 L600,700.3 L599.7,699.1 L599.5,697.9 L599.2,696.7 L599.1,695.6 L599,694.4 L598.9,693.2 Z" fill="#fff" stroke="#000" stroke-width="1.2"/><ellipse cx="619" cy="695.5" rx="17.5" ry="23" transform="rotate(-18 619 695.5)" fill="#fff" stroke="#000" stroke-width="1.2"/>
<ellipse cx="619.3" cy="696" rx="15.5" ry="21" transform="rotate(-18 619.3 696)" fill="none" stroke="#000" stroke-width="1"/>
<ellipse cx="619.5" cy="696.5" rx="12.5" ry="17.5" transform="rotate(-18 619.5 696.5)" fill="none" stroke="#000" stroke-width="1"/>
<path d="M610,692 L618,696" fill="none" stroke="#000" stroke-width="1"/>
<line x1="678.5" y1="694.6" x2="678.5" y2="743" stroke="#000" stroke-width="1.1"/>
<path d="M632.5,670.6 L632.6,669.2 L632.7,667.9 L632.9,666.5 L633.1,665.2 L633.4,664 L633.7,662.7 L634.1,661.5 L634.6,660.3 L635.1,659.2 L635.6,658.1 L636.2,657 L636.9,656 L637.5,655.1 L638.3,654.2 L639.1,653.3 L639.9,652.5 L640.7,651.8 L641.6,651.2 L642.5,650.6 L643.5,650.1 L644.5,649.6 L656.5,644.6 L657.5,644.2 L658.5,643.9 L659.6,643.7 L660.6,643.5 L661.7,643.4 L662.8,643.4 L663.9,643.4 L665,643.6 L666.1,643.8 L667.2,644 L668.3,644.4 L669.4,644.8 L670.4,645.2 L671.5,645.8 L672.5,646.4 L673.6,647.1 L674.6,647.8 L675.5,648.6 L676.5,649.5 L677.4,650.4 L678.3,651.4 L679.1,652.4 L680,653.4 L680.8,654.5 L681.5,655.7 L682.2,656.9 L682.8,658.1 L683.4,659.4 L684,660.7 L684.5,662 L684.9,663.3 L685.3,664.7 L685.6,666.1 L685.9,667.5 L686.1,668.8 L686.3,670.2 L686.4,671.6 L686.5,673 L686.5,674.4 L686.4,675.8 L686.3,677.1 L686.1,678.5 L685.9,679.8 L685.6,681 L685.3,682.3 L684.9,683.5 L684.4,684.7 L683.9,685.8 L683.4,686.9 L682.8,688 L682.1,689 L681.5,689.9 L680.7,690.8 L679.9,691.7 L679.1,692.5 L678.3,693.2 L677.4,693.8 L676.5,694.4 L675.5,694.9 L674.5,695.4 L662.5,700.4 L661.5,700.8 L660.5,701.1 L659.4,701.3 L658.4,701.5 L657.3,701.6 L656.2,701.6 L655.1,701.6 L654,701.4 L652.9,701.2 L651.8,701 L650.7,700.6 L649.6,700.2 L648.6,699.8 L647.5,699.2 L646.5,698.6 L645.4,697.9 L644.4,697.2 L643.5,696.4 L642.5,695.5 L641.6,694.6 L640.7,693.6 L639.9,692.6 L639,691.6 L638.2,690.5 L637.5,689.3 L636.8,688.1 L636.2,686.9 L635.6,685.6 L635,684.3 L634.5,683 L634.1,681.7 L633.7,680.3 L633.4,678.9 L633.1,677.5 L632.9,676.2 L632.7,674.8 L632.6,673.4 L632.5,672 Z" fill="#fff" stroke="#000" stroke-width="1.2"/><ellipse cx="653.5" cy="675" rx="20.5" ry="27" transform="rotate(-15 653.5 675)" fill="#fff" stroke="#000" stroke-width="1.2"/>
<ellipse cx="654" cy="675.5" rx="17" ry="23" transform="rotate(-15 654 675.5)" fill="none" stroke="#000" stroke-width="1.8"/>
<ellipse cx="654.5" cy="675.5" rx="13" ry="18" transform="rotate(-15 654.5 675.5)" fill="none" stroke="#000" stroke-width="1"/>
<ellipse cx="655.5" cy="675.5" rx="10.5" ry="14" transform="rotate(-15 655.5 675.5)" fill="none" stroke="#000" stroke-width="1.2"/>
<ellipse cx="656" cy="675.5" rx="8" ry="11" transform="rotate(-15 656 675.5)" fill="none" stroke="#000" stroke-width="1"/>
<path d="M650,678 L660,672" fill="none" stroke="#000" stroke-width="1"/>
<path d="M681.3,656.8 L716.3,638.4" fill="none" stroke="#000" stroke-width="1" stroke-dasharray="7 4"/>
<path d="M461,655 L554,655 L619,729 L619,847 L401,847 L376,810 L400,776.5 L412.5,705.3 Z" fill="none" stroke="#000" stroke-width="1.2"/>
<line x1="500" y1="847" x2="500" y2="866" stroke="#000" stroke-width="1.1"/>
<path d="M583,752 L603,742 L606,747 L586,757 Z" fill="#fff" stroke="#000" stroke-width="1.1"/>
<path d="M586,750 L588,755 M589,748.5 L591,753.5 M592,747 L594,752 M595,745.5 L597,750.5" fill="none" stroke="#000" stroke-width="1"/>
<path d="M602,739 L608,737 L612,741 L611,746 L606,748 L603,744 Z" fill="#fff" stroke="#000" stroke-width="1.1"/>
<path d="M588.4,757 Q586,764 589,770 Q586,780 588,790 L585.2,798" fill="none" stroke="#000" stroke-width="1.1"/>
<path d="M395,797 L432,783 M424,839 L474,810" fill="none" stroke="#000" stroke-width="1.2"/>
<path d="M429,705.3 L399,792" fill="none" stroke="#000" stroke-width="1.1"/>
<path d="M433,716 L425,760 L427,768" fill="none" stroke="#000" stroke-width="1.0"/>
<path d="M429,705.3 Q433,697 441.6,695.8 Q450,693 457.4,693.4 Q466,695 473.2,699 L489,710 Q495,716 500,722.6 L511,740 Q515,749 517.4,759 L519,778 L517.4,800 Q514,810 505,814 Q495,818 487,816 L474,810" fill="none" stroke="#000" stroke-width="1.2"/>
<path d="M432,710 Q438,702 446.3,700.5 L462,699 L478,707 L492,718 L504.7,736.8 L511,755.8 L513.4,774.7 L512.6,793.7 Q510,803 503,808" fill="none" stroke="#000" stroke-width="1.0"/>
<path d="M436.8,718 L449.5,711.6 L465.3,713 L478,719.5 L489,730.5 L498.4,746.3 L503.2,762 L504.7,779.5 L503,790" fill="none" stroke="#000" stroke-width="1.0"/>
<ellipse cx="408" cy="819" rx="16.5" ry="23" transform="rotate(-20 408 819)" fill="#fff" stroke="#000" stroke-width="1.2"/>
<ellipse cx="408.5" cy="819" rx="14.5" ry="21" transform="rotate(-20 408.5 819)" fill="none" stroke="#000" stroke-width="1"/>
<ellipse cx="409.5" cy="819.5" rx="12" ry="18.5" transform="rotate(-20 409.5 819.5)" fill="none" stroke="#000" stroke-width="1"/>
<ellipse cx="453.4" cy="702.9" rx="3.2" ry="3.8" fill="#fff" stroke="#000" stroke-width="1.1"/>
<ellipse cx="453.4" cy="702.9" rx="1.4" ry="1.7" fill="none" stroke="#000" stroke-width="0.9"/>
<ellipse cx="432.1" cy="715.5" rx="3.2" ry="3.8" fill="#fff" stroke="#000" stroke-width="1.1"/>
<ellipse cx="432.1" cy="715.5" rx="1.4" ry="1.7" fill="none" stroke="#000" stroke-width="0.9"/>
<ellipse cx="485" cy="721" rx="3.2" ry="3.8" fill="#fff" stroke="#000" stroke-width="1.1"/>
<ellipse cx="485" cy="721" rx="1.4" ry="1.7" fill="none" stroke="#000" stroke-width="0.9"/>
<ellipse cx="507" cy="757.4" rx="3.2" ry="3.8" fill="#fff" stroke="#000" stroke-width="1.1"/>
<ellipse cx="507" cy="757.4" rx="1.4" ry="1.7" fill="none" stroke="#000" stroke-width="0.9"/>
<ellipse cx="507" cy="793.7" rx="3.2" ry="3.8" fill="#fff" stroke="#000" stroke-width="1.1"/>
<ellipse cx="507" cy="793.7" rx="1.4" ry="1.7" fill="none" stroke="#000" stroke-width="0.9"/>
<ellipse cx="487.1" cy="807" rx="3.2" ry="3.8" fill="#fff" stroke="#000" stroke-width="1.1"/>
<ellipse cx="487.1" cy="807" rx="1.4" ry="1.7" fill="none" stroke="#000" stroke-width="0.9"/>
<path d="M474.7,721.8 L455.8,749.5 L446.3,759 L430.5,771.6" fill="none" stroke="#000" stroke-width="1.0"/>
<path d="M438.4,733.7 L457.4,747.9 M433.7,738.4 L452,751" fill="none" stroke="#000" stroke-width="1.0"/>
<path d="M463.7,746.3 L492,749.5 M471.6,740.8 L492,741.6" fill="none" stroke="#000" stroke-width="1.0"/>
<path d="M470,751 L466.8,763.7 M484.2,754.2 L481,768.4 M470,768.4 Q477,773 479.5,781 M474,766 Q481,772 484,779" fill="none" stroke="#000" stroke-width="1.0"/>
<path d="M430.5,772 L462,766.8 L475,762" fill="none" stroke="#000" stroke-width="1.0"/>
<path d="M443,796.8 L501.6,787.4 M445,802 L503,792.5 M440,790 L445,797" fill="none" stroke="#000" stroke-width="1.0"/>
<path d="M438,722 L444,716 M444,728 Q440,738 441,745" fill="none" stroke="#000" stroke-width="1.0"/>
<path d="M505.0,667.6 L525.2,656.3 Q531.0,655.0 532.8,660.0 L534.0,670.0 Q540.0,673.0 541.6,677.7 Q545.0,690.0 542.9,702.9 Q538.0,716.0 530.3,725.6 Q522.0,731.0 511.4,734.4 L505.0,730.6 L504.4,718.0 L512.6,715.5 Q527.0,706.0 526.5,685.3 L521.4,683.4 L517.7,684.0 L511.4,682.7 L504.4,675.2 Z" fill="#fff" stroke="#000" stroke-width="1.1"/>
<path d="M522.0,684.0 Q536.0,694.0 530.0,708.0 Q524.0,717.0 514.0,721.0" fill="none" stroke="#000" stroke-width="1.0"/>
<path d="M523.8,684.0 Q537.8,694.0 531.8,708.0 Q525.8,717.0 514.9,721.5" fill="none" stroke="#000" stroke-width="1.0"/>
<path d="M525.6,684.0 Q539.6,694.0 533.6,708.0 Q527.6,717.0 515.8,722.1" fill="none" stroke="#000" stroke-width="1.0"/>
<path d="M508,671 L511,670 L(513.5, 674) Z" fill="none" stroke="#000" stroke-width="1.0"/>
<ellipse cx="510.7" cy="674" rx="2.4" ry="3" fill="none" stroke="#000" stroke-width="1.1"/>
<ellipse cx="510.7" cy="726.8" rx="2.4" ry="3" fill="none" stroke="#000" stroke-width="1.1"/>
<path d="M505,720 L512,723 L512,733" fill="none" stroke="#000" stroke-width="1.0"/>
<path d="M536.7,718.2 L556.9,706.9 Q562.7,705.6 564.5,710.6 L565.7,720.6 Q571.7,723.6 573.3,728.3 Q576.7,740.6 574.6,753.5 Q569.7,766.6 562.0,776.2 Q553.7,781.6 543.1,785.0 L536.7,781.2 L536.1,768.6 L544.3,766.1 Q558.7,756.6 558.2,735.9 L553.1,734.0 L549.4,734.6 L543.1,733.3 L536.1,725.8 Z" fill="#fff" stroke="#000" stroke-width="1.1"/>
<path d="M553.7,734.6 Q567.7,744.6 561.7,758.6 Q555.7,767.6 545.7,771.6" fill="none" stroke="#000" stroke-width="1.0"/>
<path d="M555.5,734.6 Q569.5,744.6 563.5,758.6 Q557.5,767.6 546.6,772.1" fill="none" stroke="#000" stroke-width="1.0"/>
<path d="M557.3,734.6 Q571.3,744.6 565.3,758.6 Q559.3,767.6 547.5,772.7" fill="none" stroke="#000" stroke-width="1.0"/>
<path d="M539.7,721.6 L542.7,720.6 L(513.5, 674) Z" fill="none" stroke="#000" stroke-width="1.0"/>
<ellipse cx="542.4" cy="724.6" rx="2.4" ry="3" fill="none" stroke="#000" stroke-width="1.1"/>
<ellipse cx="542.4" cy="777.4" rx="2.4" ry="3" fill="none" stroke="#000" stroke-width="1.1"/>
<path d="M536.7,770.6 L543.7,773.6 L543.7,783.6" fill="none" stroke="#000" stroke-width="1.0"/>
<path d="M380,766 L413,771" fill="none" stroke="#000" stroke-width="1" stroke-dasharray="7 4"/>
<line x1="274.2" y1="733" x2="274.2" y2="745" stroke="#000" stroke-width="1.1"/>
<path d="M269,752 L272,745.5 L278,745 L282,751 L280,758 L273,760 L269,757 Z" fill="#fff" stroke="#000" stroke-width="1.1"/>
<ellipse cx="276" cy="752.5" rx="3.5" ry="5" fill="none" stroke="#000" stroke-width="1"/>
<path d="M281,749.5 L287,750.5 L287,756 L281,756" fill="none" stroke="#000" stroke-width="1.1"/>
<line x1="355.1" y1="743" x2="355.1" y2="758" stroke="#000" stroke-width="1.1"/>
<ellipse cx="355" cy="764.7" rx="5.5" ry="7" transform="rotate(15 355 764.7)" fill="none" stroke="#000" stroke-width="1.1"/>
<ellipse cx="355.5" cy="764.7" rx="2.8" ry="4" transform="rotate(15 355.5 764.7)" fill="none" stroke="#000" stroke-width="1"/>
<path d="M288,754 L349,763.6 M364,766 L415,772.6" fill="none" stroke="#000" stroke-width="1" stroke-dasharray="12 3 2 3"/>
<line x1="319.5" y1="816" x2="319.5" y2="855" stroke="#000" stroke-width="1.1"/>
<line x1="361" y1="868" x2="361" y2="891.7" stroke="#000" stroke-width="1.1"/>
<path d="M329.5,856 L329.5,855.1 L329.6,854.3 L329.7,853.5 L329.8,852.7 L330,851.9 L330.2,851.1 L330.5,850.4 L330.7,849.7 L331.1,848.9 L331.4,848.2 L331.8,847.6 L332.2,847 L332.6,846.3 L333.1,845.8 L333.6,845.2 L334.1,844.7 L334.7,844.2 L335.2,843.8 L335.8,843.4 L336.4,843 L366.4,827 L367.1,826.7 L367.7,826.4 L368.4,826.1 L369.1,826 L369.8,825.8 L370.4,825.7 L371.1,825.6 L371.9,825.6 L372.6,825.6 L373.3,825.6 L374,825.7 L374.7,825.9 L375.4,826 L376.1,826.3 L376.8,826.5 L377.5,826.8 L378.2,827.2 L378.9,827.6 L379.5,828 L380.1,828.5 L380.7,829 L381.3,829.5 L381.9,830 L382.4,830.6 L382.9,831.3 L383.4,831.9 L383.9,832.6 L384.3,833.3 L384.7,834 L385.1,834.8 L385.4,835.5 L385.7,836.3 L386,837.1 L386.2,837.9 L386.4,838.7 L386.6,839.5 L386.7,840.4 L386.8,841.2 L386.9,842 L386.9,842.9 L386.9,843.7 L386.8,844.5 L386.7,845.3 L386.6,846.1 L386.4,846.9 L386.2,847.7 L385.9,848.4 L385.7,849.1 L385.4,849.9 L385,850.5 L384.6,851.2 L384.2,851.9 L383.8,852.5 L383.3,853 L382.8,853.6 L382.3,854.1 L381.7,854.6 L381.2,855 L380.6,855.4 L380,855.8 L350,871.8 L349.3,872.1 L348.7,872.4 L348,872.6 L347.3,872.9 L346.6,873 L346,873.1 L345.2,873.2 L344.5,873.2 L343.8,873.2 L343.1,873.2 L342.4,873.1 L341.7,872.9 L341,872.8 L340.3,872.5 L339.6,872.3 L338.9,872 L338.2,871.6 L337.6,871.2 L336.9,870.8 L336.3,870.3 L335.7,869.8 L335.1,869.3 L334.5,868.8 L334,868.1 L333.5,867.5 L333,866.9 L332.5,866.2 L332.1,865.5 L331.7,864.8 L331.3,864 L331,863.3 L330.7,862.5 L330.4,861.7 L330.2,860.9 L330,860.1 L329.8,859.3 L329.7,858.4 L329.6,857.6 L329.5,856.8 Z" fill="#fff" stroke="#000" stroke-width="1.2"/><ellipse cx="343.2" cy="857.4" rx="13.5" ry="16" transform="rotate(-15.0 343.2 857.4)" fill="#fff" stroke="#000" stroke-width="1.2"/>
<ellipse cx="343.6" cy="857.6" rx="11" ry="13.5" transform="rotate(-15.0 343.6 857.6)" fill="none" stroke="#000" stroke-width="1"/>
<path d="M343.7,838.9 L344.6,838.5 L345.6,838.1 L346.7,837.9 L347.7,837.7 L348.8,837.7 L349.9,837.7 L350.9,837.8 L352,838.1 L353.1,838.4 L354.1,838.8 L355.1,839.4 L356.1,840 L357,840.6 L357.9,841.4 L358.8,842.2 L359.6,843.2 L360.3,844.1 L361,845.2 L361.6,846.2 L362.1,847.4 L362.6,848.5 L363,849.7 L363.3,851 L363.5,852.2 L363.6,853.4 L363.7,854.7 L363.7,855.9 L363.5,857.1 L363.3,858.3 L363.1,859.5 L362.7,860.6 L362.3,861.7 L361.7,862.8 L361.2,863.7 L360.5,864.7 L359.8,865.5 L359,866.3 L358.2,867 L357.3,867.6 L356.3,868.1" fill="none" stroke="#000" stroke-width="1"/>
<path d="M309.1,866.5 L309.1,865.8 L309.2,865 L309.3,864.3 L309.4,863.6 L309.5,863 L309.6,862.3 L309.8,861.6 L310,861 L310.2,860.4 L310.5,859.8 L310.8,859.3 L311.1,858.8 L311.4,858.3 L311.8,857.8 L312.1,857.4 L312.5,857 L312.9,856.6 L313.4,856.2 L313.8,855.9 L314.3,855.7 L314.8,855.4 L315.2,855.2 L316.8,854.8 L317.2,854.6 L317.8,854.5 L318.3,854.4 L318.8,854.4 L319.3,854.4 L319.9,854.4 L320.4,854.5 L321,854.6 L321.5,854.8 L322,855 L322.6,855.2 L323.1,855.4 L323.6,855.8 L324.2,856.1 L324.7,856.5 L325.2,856.9 L325.7,857.3 L326.1,857.8 L326.6,858.3 L327.1,858.8 L327.5,859.4 L327.9,859.9 L328.3,860.5 L328.7,861.2 L329,861.8 L329.4,862.5 L329.7,863.2 L329.9,863.9 L330.2,864.6 L330.4,865.3 L330.7,866 L330.8,866.8 L331,867.5 L331.1,868.2 L331.2,869 L331.3,869.7 L331.4,870.5 L331.4,871.2 L331.4,871.9 L331.3,872.6 L331.2,873.4 L331.1,874.1 L331,874.7 L330.9,875.4 L330.7,876 L330.5,876.7 L330.2,877.3 L330,877.9 L329.7,878.4 L329.4,878.9 L329.1,879.4 L328.7,879.9 L328.4,880.3 L328,880.8 L327.6,881.1 L327.1,881.5 L326.7,881.8 L326.2,882 L325.7,882.3 L325.2,882.5 L323.8,883 L323.2,883.1 L322.7,883.2 L322.2,883.3 L321.7,883.3 L321.2,883.3 L320.6,883.3 L320.1,883.2 L319.5,883.1 L319,883 L318.5,882.8 L317.9,882.5 L317.4,882.3 L316.9,882 L316.3,881.6 L315.8,881.2 L315.3,880.8 L314.8,880.4 L314.4,879.9 L313.9,879.4 L313.4,878.9 L313,878.3 L312.6,877.8 L312.2,877.2 L311.8,876.5 L311.5,875.9 L311.1,875.2 L310.8,874.5 L310.6,873.9 L310.3,873.1 L310.1,872.4 L309.8,871.7 L309.7,871 L309.5,870.2 L309.4,869.5 L309.3,868.7 L309.2,868 L309.1,867.2 Z" fill="#fff" stroke="#000" stroke-width="1.2"/><ellipse cx="321" cy="868.6" rx="10" ry="14.5" transform="rotate(-15.0 321 868.6)" fill="#fff" stroke="#000" stroke-width="1.2"/>
<ellipse cx="321.3" cy="869" rx="7.8" ry="12.3" transform="rotate(-15.0 321.3 869)" fill="none" stroke="#000" stroke-width="1"/>
<line x1="289.9" y1="913" x2="289.9" y2="964" stroke="#000" stroke-width="1.1"/>
<path d="M269.1,883.6 L269.2,882.3 L269.3,881 L269.4,879.7 L269.6,878.5 L269.9,877.2 L270.2,876 L270.6,874.9 L271,873.7 L271.4,872.6 L271.9,871.6 L272.5,870.6 L273.1,869.6 L273.7,868.7 L274.4,867.9 L275.1,867.1 L275.8,866.3 L276.6,865.6 L277.4,865 L278.3,864.5 L279.2,864 L288.2,859 L289.1,858.5 L290,858.2 L291,857.9 L291.9,857.7 L292.9,857.5 L293.9,857.4 L294.9,857.4 L295.9,857.5 L297,857.6 L298,857.8 L299,858.1 L300,858.4 L301.1,858.8 L302.1,859.3 L303,859.8 L304,860.4 L305,861 L305.9,861.8 L306.8,862.5 L307.7,863.4 L308.6,864.3 L309.4,865.2 L310.2,866.2 L311,867.2 L311.7,868.3 L312.4,869.4 L313.1,870.6 L313.7,871.8 L314.2,873 L314.8,874.2 L315.2,875.5 L315.7,876.8 L316.1,878.1 L316.4,879.4 L316.7,880.7 L316.9,882.1 L317.1,883.4 L317.2,884.8 L317.2,886.1 L317.2,887.4 L317.2,888.7 L317.1,890 L317,891.3 L316.8,892.5 L316.5,893.8 L316.2,895 L315.8,896.1 L315.4,897.3 L315,898.4 L314.5,899.4 L313.9,900.4 L313.3,901.4 L312.7,902.3 L312,903.1 L311.3,903.9 L310.6,904.7 L309.8,905.4 L308.9,906 L308.1,906.5 L307.2,907 L298.2,912 L297.3,912.5 L296.4,912.8 L295.4,913.1 L294.5,913.3 L293.5,913.5 L292.5,913.6 L291.5,913.6 L290.4,913.5 L289.4,913.4 L288.4,913.2 L287.4,912.9 L286.4,912.6 L285.4,912.2 L284.4,911.7 L283.4,911.2 L282.4,910.6 L281.4,910 L280.5,909.2 L279.6,908.5 L278.7,907.6 L277.8,906.7 L277,905.8 L276.2,904.8 L275.4,903.8 L274.7,902.7 L274,901.6 L273.3,900.4 L272.7,899.2 L272.1,898 L271.6,896.8 L271.1,895.5 L270.7,894.2 L270.4,892.9 L270,891.6 L269.7,890.3 L269.5,888.9 L269.4,887.6 L269.2,886.2 L269.2,884.9 Z" fill="#fff" stroke="#000" stroke-width="1.2"/><ellipse cx="288.7" cy="888" rx="19" ry="26" transform="rotate(-15.0 288.7 888)" fill="#fff" stroke="#000" stroke-width="1.2"/>
<ellipse cx="289" cy="888.5" rx="16" ry="22.5" transform="rotate(-15.0 289 888.5)" fill="none" stroke="#000" stroke-width="1"/>
<ellipse cx="289.5" cy="888.5" rx="13" ry="18.5" transform="rotate(-15.0 289.5 888.5)" fill="none" stroke="#000" stroke-width="1.6"/>
<ellipse cx="290" cy="889" rx="10" ry="14" transform="rotate(-15.0 290 889)" fill="none" stroke="#000" stroke-width="1"/>
<ellipse cx="290.5" cy="889" rx="7" ry="10" transform="rotate(-15.0 290.5 889)" fill="none" stroke="#000" stroke-width="1"/>
<path d="M286,890 L294,886" fill="none" stroke="#000" stroke-width="1"/>
<line x1="258.4" y1="849" x2="258.4" y2="893" stroke="#000" stroke-width="1.1"/>
<path d="M248.2,904.4 L248.2,903.7 L248.3,903.1 L248.3,902.5 L248.4,901.9 L248.6,901.3 L248.7,900.7 L248.9,900.1 L249.1,899.6 L249.3,899.1 L249.5,898.6 L249.8,898.1 L250.1,897.6 L250.3,897.2 L250.7,896.8 L251,896.4 L251.4,896.1 L251.7,895.7 L252.1,895.4 L252.5,895.2 L252.9,894.9 L253.4,894.7 L253.8,894.6 L255.3,894.1 L255.8,893.9 L256.2,893.8 L256.7,893.8 L257.2,893.7 L257.6,893.7 L258.1,893.7 L258.6,893.8 L259.1,893.9 L259.6,894 L260.1,894.2 L260.5,894.4 L261,894.6 L261.5,894.9 L262,895.1 L262.4,895.5 L262.9,895.8 L263.3,896.2 L263.7,896.6 L264.1,897 L264.5,897.5 L264.9,898 L265.3,898.4 L265.6,899 L266,899.5 L266.3,900 L266.6,900.6 L266.8,901.2 L267.1,901.8 L267.3,902.4 L267.5,903 L267.7,903.7 L267.9,904.3 L268,905 L268.1,905.6 L268.2,906.2 L268.2,906.9 L268.3,907.5 L268.3,908.1 L268.3,908.8 L268.2,909.4 L268.1,910 L268.1,910.6 L267.9,911.2 L267.8,911.8 L267.6,912.4 L267.4,912.9 L267.2,913.4 L267,913.9 L266.7,914.4 L266.4,914.9 L266.1,915.3 L265.8,915.7 L265.5,916.1 L265.1,916.4 L264.8,916.8 L264.4,917.1 L264,917.3 L263.6,917.6 L263.1,917.8 L262.7,917.9 L261.2,918.4 L260.7,918.6 L260.3,918.7 L259.8,918.8 L259.3,918.8 L258.9,918.8 L258.4,918.8 L257.9,918.7 L257.4,918.6 L256.9,918.5 L256.4,918.3 L256,918.1 L255.5,917.9 L255,917.6 L254.5,917.4 L254.1,917 L253.6,916.7 L253.2,916.3 L252.8,915.9 L252.4,915.5 L252,915 L251.6,914.5 L251.2,914.1 L250.9,913.5 L250.5,913 L250.2,912.5 L249.9,911.9 L249.7,911.3 L249.4,910.7 L249.2,910.1 L249,909.5 L248.8,908.8 L248.7,908.2 L248.5,907.5 L248.4,906.9 L248.3,906.3 L248.3,905.6 L248.2,905 Z" fill="#fff" stroke="#000" stroke-width="1.2"/><ellipse cx="259" cy="906" rx="9" ry="12.5" transform="rotate(-15.0 259 906)" fill="#fff" stroke="#000" stroke-width="1.2"/>
<ellipse cx="259.5" cy="906.5" rx="5.5" ry="8" transform="rotate(-15.0 259.5 906.5)" fill="none" stroke="#000" stroke-width="1"/>
<line x1="234.7" y1="932" x2="234.7" y2="1055" stroke="#000" stroke-width="1.1"/>
<path d="M222,912 L227,906 L237,904 L245,909 L248,919 L245,928 L237,933 L227,932 L222,925 Z" fill="#fff" stroke="#000" stroke-width="1.1"/>
<path d="M231,906 L235,916 L233,930 M240,905 L244,918 L240,932" fill="none" stroke="#000" stroke-width="1"/>
<ellipse cx="227.5" cy="919.5" rx="6" ry="9" transform="rotate(-10.0 227.5 919.5)" fill="#fff" stroke="#000" stroke-width="1.1"/>
<ellipse cx="227.5" cy="919.5" rx="3" ry="4.8" transform="rotate(-10.0 227.5 919.5)" fill="none" stroke="#000" stroke-width="1"/>
<line x1="202.5" y1="821" x2="202.5" y2="916.3" stroke="#000" stroke-width="1.1"/>
<path d="M186.3,934.4 L186.3,933.3 L186.4,932.2 L186.5,931.2 L186.7,930.2 L186.9,929.2 L187.1,928.2 L187.4,927.3 L187.7,926.4 L188.1,925.5 L188.5,924.7 L188.9,923.9 L189.3,923.1 L189.8,922.4 L190.4,921.7 L190.9,921 L191.5,920.5 L192.2,919.9 L192.8,919.4 L193.5,919 L194.2,918.6 L194.9,918.2 L195.6,918 L196.4,917.7 L198.4,917.2 L199.1,917 L199.9,916.9 L200.7,916.9 L201.5,916.9 L202.3,916.9 L203.1,917 L203.9,917.2 L204.7,917.4 L205.5,917.7 L206.3,918 L207.1,918.4 L207.9,918.8 L208.7,919.3 L209.5,919.8 L210.2,920.4 L210.9,921 L211.6,921.7 L212.3,922.4 L213,923.2 L213.6,924 L214.2,924.8 L214.8,925.7 L215.4,926.6 L215.9,927.5 L216.4,928.5 L216.8,929.5 L217.3,930.5 L217.6,931.5 L218,932.6 L218.3,933.6 L218.6,934.7 L218.8,935.8 L219,936.8 L219.1,937.9 L219.2,939 L219.3,940.1 L219.3,941.1 L219.2,942.2 L219.2,943.2 L219.1,944.3 L218.9,945.3 L218.7,946.3 L218.5,947.2 L218.2,948.2 L217.9,949.1 L217.5,950 L217.1,950.8 L216.7,951.6 L216.2,952.4 L215.8,953.1 L215.2,953.8 L214.7,954.5 L214.1,955 L213.4,955.6 L212.8,956.1 L212.1,956.5 L211.4,956.9 L210.7,957.3 L210,957.5 L209.2,957.8 L207.2,958.3 L206.5,958.5 L205.7,958.6 L204.9,958.6 L204.1,958.6 L203.3,958.6 L202.5,958.5 L201.7,958.3 L200.9,958.1 L200.1,957.8 L199.3,957.5 L198.5,957.1 L197.7,956.7 L196.9,956.2 L196.1,955.7 L195.4,955.1 L194.7,954.5 L194,953.8 L193.3,953.1 L192.6,952.3 L192,951.5 L191.4,950.7 L190.8,949.8 L190.2,948.9 L189.7,948 L189.2,947 L188.8,946 L188.3,945 L188,944 L187.6,942.9 L187.3,941.9 L187.1,940.8 L186.8,939.7 L186.6,938.7 L186.5,937.6 L186.4,936.5 L186.3,935.4 Z" fill="#fff" stroke="#000" stroke-width="1.2"/><ellipse cx="203.8" cy="937.5" rx="15" ry="21" transform="rotate(-15.0 203.8 937.5)" fill="#fff" stroke="#000" stroke-width="1.2"/>
<ellipse cx="204.3" cy="938" rx="13" ry="19" transform="rotate(-15.0 204.3 938)" fill="none" stroke="#000" stroke-width="1"/>
<ellipse cx="204.8" cy="938.5" rx="11.5" ry="16.5" transform="rotate(-15.0 204.8 938.5)" fill="none" stroke="#000" stroke-width="1"/>
<line x1="162.5" y1="862" x2="162.5" y2="933" stroke="#000" stroke-width="1.1"/>
<path d="M135.6,960.9 L135.6,959.7 L135.7,958.5 L135.8,957.3 L135.9,956.1 L136.2,955 L136.4,953.9 L136.7,952.8 L137,951.8 L137.4,950.8 L137.8,949.8 L138.3,948.9 L138.8,948 L139.3,947.1 L139.8,946.3 L140.4,945.6 L141.1,944.9 L141.7,944.3 L142.4,943.7 L143.1,943.2 L143.9,942.7 L144.6,942.3 L164.6,933.3 L165.4,933 L166.2,932.7 L167,932.5 L167.8,932.4 L168.7,932.3 L169.5,932.3 L170.4,932.4 L171.2,932.5 L172.1,932.6 L172.9,932.9 L173.8,933.2 L174.7,933.6 L175.5,934 L176.3,934.5 L177.2,935 L178,935.7 L178.8,936.3 L179.5,937 L180.3,937.8 L181,938.6 L181.7,939.5 L182.4,940.4 L183.1,941.4 L183.7,942.4 L184.3,943.4 L184.8,944.5 L185.3,945.6 L185.8,946.7 L186.3,947.9 L186.7,949 L187,950.2 L187.4,951.5 L187.7,952.7 L187.9,953.9 L188.1,955.1 L188.2,956.4 L188.3,957.6 L188.4,958.9 L188.4,960.1 L188.4,961.3 L188.3,962.5 L188.2,963.7 L188.1,964.9 L187.8,966 L187.6,967.1 L187.3,968.2 L187,969.2 L186.6,970.2 L186.2,971.2 L185.7,972.1 L185.2,973 L184.7,973.9 L184.2,974.7 L183.6,975.4 L182.9,976.1 L182.3,976.7 L181.6,977.3 L180.9,977.8 L180.1,978.3 L179.4,978.7 L159.4,987.7 L158.6,988 L157.8,988.3 L157,988.5 L156.2,988.6 L155.3,988.7 L154.5,988.7 L153.6,988.6 L152.8,988.5 L151.9,988.4 L151.1,988.1 L150.2,987.8 L149.3,987.4 L148.5,987 L147.7,986.5 L146.8,986 L146,985.3 L145.2,984.7 L144.5,984 L143.7,983.2 L143,982.4 L142.3,981.5 L141.6,980.6 L140.9,979.6 L140.3,978.6 L139.7,977.6 L139.2,976.5 L138.7,975.4 L138.2,974.3 L137.7,973.1 L137.3,972 L137,970.8 L136.6,969.5 L136.3,968.3 L136.1,967.1 L135.9,965.9 L135.8,964.6 L135.7,963.4 L135.6,962.1 Z" fill="#fff" stroke="#000" stroke-width="1.2"/><ellipse cx="152" cy="965" rx="16" ry="24" transform="rotate(-12.0 152 965)" fill="#fff" stroke="#000" stroke-width="1.2"/>
<path d="M150.7,939.9 L151.9,939.6 L153.1,939.3 L154.4,939.3 L155.7,939.4 L156.9,939.6 L158.2,940 L159.5,940.5 L160.8,941.2 L162,942 L163.2,942.9 L164.4,943.9 L165.5,945.1 L166.6,946.4 L167.6,947.7 L168.6,949.2 L169.5,950.8 L170.3,952.4 L171,954.1 L171.6,955.8 L172.2,957.6 L172.6,959.5 L173,961.3 L173.2,963.2 L173.4,965 L173.4,966.9 L173.4,968.7 L173.2,970.5 L173,972.2 L172.6,973.9 L172.2,975.5 L171.7,977.1 L171,978.5 L170.3,979.9 L169.5,981.1 L168.7,982.3 L167.7,983.3 L166.7,984.2 L165.6,985 L164.5,985.6 L163.3,986.1" fill="none" stroke="#000" stroke-width="1.1"/>
<path d="M153.7,938.9 L154.9,938.6 L156.1,938.3 L157.4,938.3 L158.7,938.4 L159.9,938.6 L161.2,939 L162.5,939.5 L163.8,940.2 L165,941 L166.2,941.9 L167.4,942.9 L168.5,944.1 L169.6,945.4 L170.6,946.7 L171.6,948.2 L172.5,949.8 L173.3,951.4 L174,953.1 L174.6,954.8 L175.2,956.6 L175.6,958.5 L176,960.3 L176.2,962.2 L176.4,964 L176.4,965.9 L176.4,967.7 L176.2,969.5 L176,971.2 L175.6,972.9 L175.2,974.5 L174.7,976.1 L174,977.5 L173.3,978.9 L172.5,980.1 L171.7,981.3 L170.7,982.3 L169.7,983.2 L168.6,984 L167.5,984.6 L166.3,985.1" fill="none" stroke="#000" stroke-width="1.1"/>
<path d="M118.7,974.1 L118.7,973 L118.8,972 L118.9,971 L119.1,969.9 L119.3,968.9 L119.6,968 L119.8,967 L120.2,966.1 L120.5,965.2 L120.9,964.3 L121.4,963.5 L121.8,962.7 L122.3,962 L122.9,961.3 L123.5,960.6 L124,960 L124.7,959.4 L125.3,958.9 L126,958.5 L126.7,958.1 L127.4,957.7 L128.1,957.4 L133.1,955.4 L133.9,955.1 L134.6,955 L135.4,954.8 L136.2,954.8 L137,954.7 L137.8,954.8 L138.6,954.9 L139.4,955 L140.2,955.2 L141,955.5 L141.8,955.8 L142.6,956.1 L143.3,956.6 L144.1,957 L144.8,957.6 L145.6,958.1 L146.3,958.8 L147,959.4 L147.7,960.1 L148.3,960.9 L148.9,961.7 L149.5,962.5 L150.1,963.4 L150.6,964.3 L151.1,965.2 L151.6,966.2 L152,967.2 L152.4,968.2 L152.8,969.2 L153.1,970.2 L153.4,971.3 L153.7,972.4 L153.9,973.5 L154.1,974.5 L154.2,975.6 L154.3,976.7 L154.3,977.8 L154.3,978.9 L154.3,980 L154.2,981 L154.1,982 L153.9,983.1 L153.7,984.1 L153.4,985 L153.2,986 L152.8,986.9 L152.5,987.8 L152.1,988.7 L151.6,989.5 L151.2,990.3 L150.7,991 L150.1,991.7 L149.6,992.4 L149,993 L148.3,993.6 L147.7,994.1 L147,994.5 L146.3,994.9 L145.6,995.3 L144.9,995.6 L139.9,997.6 L139.1,997.9 L138.4,998 L137.6,998.2 L136.8,998.2 L136,998.3 L135.2,998.2 L134.4,998.1 L133.6,998 L132.8,997.8 L132,997.5 L131.2,997.2 L130.4,996.9 L129.7,996.4 L128.9,996 L128.2,995.4 L127.4,994.9 L126.7,994.2 L126,993.6 L125.3,992.9 L124.7,992.1 L124.1,991.3 L123.5,990.5 L122.9,989.6 L122.4,988.7 L121.9,987.8 L121.4,986.8 L121,985.8 L120.6,984.8 L120.2,983.8 L119.9,982.8 L119.6,981.7 L119.3,980.6 L119.1,979.5 L119,978.5 L118.8,977.4 L118.7,976.3 L118.7,975.2 Z" fill="#fff" stroke="#000" stroke-width="1.2"/><ellipse cx="134" cy="977.5" rx="15" ry="21" transform="rotate(-12.0 134 977.5)" fill="#fff" stroke="#000" stroke-width="1.2"/>
<ellipse cx="134.3" cy="977.7" rx="13.3" ry="19.3" transform="rotate(-12.0 134.3 977.7)" fill="none" stroke="#000" stroke-width="1"/>
<path d="M130.8,974.9 L130.9,974.4 L130.9,974 L130.9,973.5 L131,973 L131.1,972.6 L131.2,972.1 L131.3,971.7 L131.4,971.3 L131.6,970.9 L131.8,970.5 L132,970.1 L132.2,969.8 L132.4,969.4 L132.6,969.1 L132.8,968.8 L133.1,968.6 L133.4,968.3 L133.7,968.1 L133.9,967.9 L134.2,967.7 L134.6,967.5 L134.9,967.4 L139.9,965.4 L140.2,965.3 L140.5,965.2 L140.9,965.1 L141.2,965.1 L141.5,965.1 L141.9,965.1 L142.2,965.2 L142.6,965.2 L142.9,965.3 L143.3,965.5 L143.6,965.6 L144,965.8 L144.3,966 L144.6,966.2 L145,966.4 L145.3,966.7 L145.6,967 L145.9,967.3 L146.2,967.6 L146.5,967.9 L146.8,968.3 L147,968.7 L147.3,969.1 L147.5,969.5 L147.7,969.9 L147.9,970.3 L148.1,970.8 L148.3,971.2 L148.5,971.7 L148.6,972.2 L148.8,972.7 L148.9,973.1 L148.9,973.6 L149,974.1 L149.1,974.6 L149.1,975.1 L149.2,975.6 L149.2,976.1 L149.1,976.6 L149.1,977 L149.1,977.5 L149,978 L148.9,978.4 L148.8,978.9 L148.7,979.3 L148.6,979.7 L148.4,980.1 L148.2,980.5 L148,980.9 L147.8,981.2 L147.6,981.6 L147.4,981.9 L147.2,982.2 L146.9,982.4 L146.6,982.7 L146.3,982.9 L146.1,983.1 L145.8,983.3 L145.4,983.5 L145.1,983.6 L140.1,985.6 L139.8,985.7 L139.5,985.8 L139.1,985.9 L138.8,985.9 L138.5,985.9 L138.1,985.9 L137.8,985.8 L137.4,985.8 L137.1,985.7 L136.7,985.5 L136.4,985.4 L136,985.2 L135.7,985 L135.4,984.8 L135,984.6 L134.7,984.3 L134.4,984 L134.1,983.7 L133.8,983.4 L133.5,983.1 L133.2,982.7 L133,982.3 L132.7,981.9 L132.5,981.5 L132.3,981.1 L132.1,980.7 L131.9,980.2 L131.7,979.8 L131.5,979.3 L131.4,978.8 L131.2,978.3 L131.1,977.9 L131.1,977.4 L131,976.9 L130.9,976.4 L130.9,975.9 L130.8,975.4 Z" fill="#fff" stroke="#000" stroke-width="1.2"/><ellipse cx="137.5" cy="976.5" rx="6.5" ry="9.5" transform="rotate(-12.0 137.5 976.5)" fill="#fff" stroke="#000" stroke-width="1.2"/>
<ellipse cx="138" cy="976.5" rx="3.8" ry="6" transform="rotate(-12.0 138 976.5)" fill="none" stroke="#000" stroke-width="1"/>
<ellipse cx="126.5" cy="963.5" rx="1.8" ry="2.3" fill="none" stroke="#000" stroke-width="1"/>
<ellipse cx="126" cy="983" rx="1.8" ry="2.3" fill="none" stroke="#000" stroke-width="1"/>
<ellipse cx="142.5" cy="992.5" rx="1.8" ry="2.3" fill="none" stroke="#000" stroke-width="1"/>
<ellipse cx="145" cy="970.5" rx="1.8" ry="2.3" fill="none" stroke="#000" stroke-width="1"/>
<line x1="104.5" y1="926" x2="104.5" y2="981.3" stroke="#000" stroke-width="1.1"/>
<ellipse cx="110.6" cy="992" rx="8" ry="10.5" transform="rotate(-15.0 110.6 992)" fill="none" stroke="#000" stroke-width="1.1"/>
<ellipse cx="111" cy="992.3" rx="6" ry="8.3" transform="rotate(-15.0 111 992.3)" fill="none" stroke="#000" stroke-width="1"/>
<line x1="91.3" y1="1012.5" x2="91.3" y2="1055" stroke="#000" stroke-width="1.1"/>
<path d="M82.8,1002 L82.9,1001.5 L82.9,1001 L82.9,1000.5 L83,1000 L83.1,999.5 L83.2,999 L83.4,998.5 L83.5,998.1 L83.7,997.6 L83.9,997.2 L84.1,996.8 L84.4,996.4 L84.6,996 L84.9,995.7 L85.2,995.3 L85.5,995 L85.8,994.7 L86.2,994.5 L86.5,994.2 L86.9,994 L87.2,993.8 L88.2,993.3 L88.6,993.1 L89,993 L89.4,992.8 L89.8,992.8 L90.2,992.7 L90.7,992.6 L91.1,992.6 L91.5,992.6 L91.9,992.7 L92.3,992.7 L92.8,992.8 L93.2,993 L93.6,993.1 L94,993.3 L94.5,993.5 L94.8,993.7 L95.2,993.9 L95.6,994.2 L96,994.5 L96.4,994.8 L96.7,995.1 L97.1,995.5 L97.4,995.9 L97.7,996.3 L98,996.7 L98.3,997.1 L98.5,997.5 L98.8,998 L99,998.5 L99.2,998.9 L99.4,999.4 L99.6,999.9 L99.7,1000.4 L99.8,1000.9 L100,1001.5 L100,1002 L100.1,1002.5 L100.1,1003 L100.2,1003.5 L100.1,1004 L100.1,1004.5 L100.1,1005 L100,1005.5 L99.9,1006 L99.8,1006.5 L99.6,1007 L99.5,1007.4 L99.3,1007.9 L99.1,1008.3 L98.9,1008.7 L98.6,1009.1 L98.4,1009.5 L98.1,1009.8 L97.8,1010.2 L97.5,1010.5 L97.2,1010.8 L96.8,1011 L96.5,1011.3 L96.1,1011.5 L95.8,1011.7 L94.8,1012.2 L94.4,1012.4 L94,1012.5 L93.6,1012.7 L93.2,1012.8 L92.8,1012.8 L92.3,1012.9 L91.9,1012.9 L91.5,1012.9 L91.1,1012.8 L90.7,1012.8 L90.2,1012.7 L89.8,1012.5 L89.4,1012.4 L89,1012.2 L88.5,1012 L88.2,1011.8 L87.8,1011.6 L87.4,1011.3 L87,1011 L86.6,1010.7 L86.3,1010.4 L85.9,1010 L85.6,1009.6 L85.3,1009.2 L85,1008.8 L84.7,1008.4 L84.5,1008 L84.2,1007.5 L84,1007 L83.8,1006.6 L83.6,1006.1 L83.4,1005.6 L83.3,1005.1 L83.2,1004.6 L83,1004 L83,1003.5 L82.9,1003 L82.9,1002.5 Z" fill="#fff" stroke="#000" stroke-width="1.2"/><ellipse cx="92" cy="1002.5" rx="8" ry="10" transform="rotate(-15.0 92 1002.5)" fill="#fff" stroke="#000" stroke-width="1.2"/>
<ellipse cx="92.5" cy="1003" rx="6" ry="8" transform="rotate(-15.0 92.5 1003)" fill="none" stroke="#000" stroke-width="1"/>
<text class="b" transform="translate(255,106.5) scale(0.95,1)">41309D</text>
<text class="b" transform="translate(485.5,47.0) scale(0.95,1)">42110C</text>
<text class="b" transform="translate(440,84.5) scale(0.95,1)">42110</text>
<text class="b" transform="translate(256,197.5) scale(0.95,1)">41110</text>
<text class="b" transform="translate(335,269.5) scale(0.95,1)">41110</text>
<text class="b" transform="translate(629,162.5) scale(0.95,1)">41309D</text>
<text class="b" transform="translate(465.5,219.0) scale(0.95,1)">42110D</text>
<text class="b" transform="translate(445,246.5) scale(0.95,1)">42110E</text>
<text class="b" transform="translate(30,318.5) scale(0.95,1)">41361A</text>
<text class="b" transform="translate(89,343.5) scale(0.95,1)">41301A</text>
<text class="b" transform="translate(114,547.5) scale(0.95,1)">41201</text>
<text class="b" transform="translate(458,326.0) scale(0.95,1)">41331</text>
<text class="b" transform="translate(597,351.0) scale(0.95,1)">41341</text>
<text class="b" transform="translate(403,410.0) scale(0.95,1)">41361</text>
<text class="b" transform="translate(448,435.0) scale(0.95,1)">41342</text>
<text class="b" transform="translate(593,407.5) scale(0.95,1)">41331</text>
<text class="b" transform="translate(645,438.5) scale(0.95,1)">41361</text>
<text class="b" transform="translate(448,465.0) scale(0.95,1)">41341</text>
<text class="b" transform="translate(179,585.5) scale(0.95,1)">41311K</text>
<text class="b" transform="translate(371,512.5) scale(0.95,1)">41301A</text>
<text class="b" transform="translate(431,545.5) scale(0.95,1)">41361A</text>
<text class="b" transform="translate(580,625.0) scale(0.95,1)">41201D</text>
<text class="b" transform="translate(647,758.0) scale(0.95,1)">41201A</text>
<text class="b" transform="translate(554,816.5) scale(0.95,1)">41114</text>
<text class="b" transform="translate(474,881.0) scale(0.95,1)">41101</text>
<text class="b" transform="translate(238,728.5) scale(0.95,1)">42110A</text>
<text class="b" transform="translate(319,738.5) scale(0.95,1)">42110B</text>
<text class="b" transform="translate(169,816.5) scale(0.95,1)">41201C</text>
<text class="b" transform="translate(284,812.5) scale(0.95,1)">41201E</text>
<text class="b" transform="translate(132,857.5) scale(0.95,1)">41204</text>
<text class="b" transform="translate(330,911.5) scale(0.95,1)">41231</text>
<text class="b" transform="translate(257,980.0) scale(0.95,1)">41201B</text>
<text class="s" transform="translate(255.5,133) scale(1.105,1)">90041-01651(8)</text>
<text class="s" transform="translate(259.5,623) scale(1.105,1)">90041-05235(6)</text>
<text class="s" transform="translate(207,845) scale(1.105,1)">90042-01740</text>
<text class="s" transform="translate(52,922) scale(1.105,1)">90045-20299</text>
<text class="s" transform="translate(40,1067) scale(1.105,1)">90043-39106</text>
<text class="s" transform="translate(184,1067) scale(1.105,1)">90041-78050</text>
<text class="f" x="10" y="1103">4101</text>
<text class="f" x="690" y="1103" style="letter-spacing:0.8px">412051-C</text>
</svg></body></html>
